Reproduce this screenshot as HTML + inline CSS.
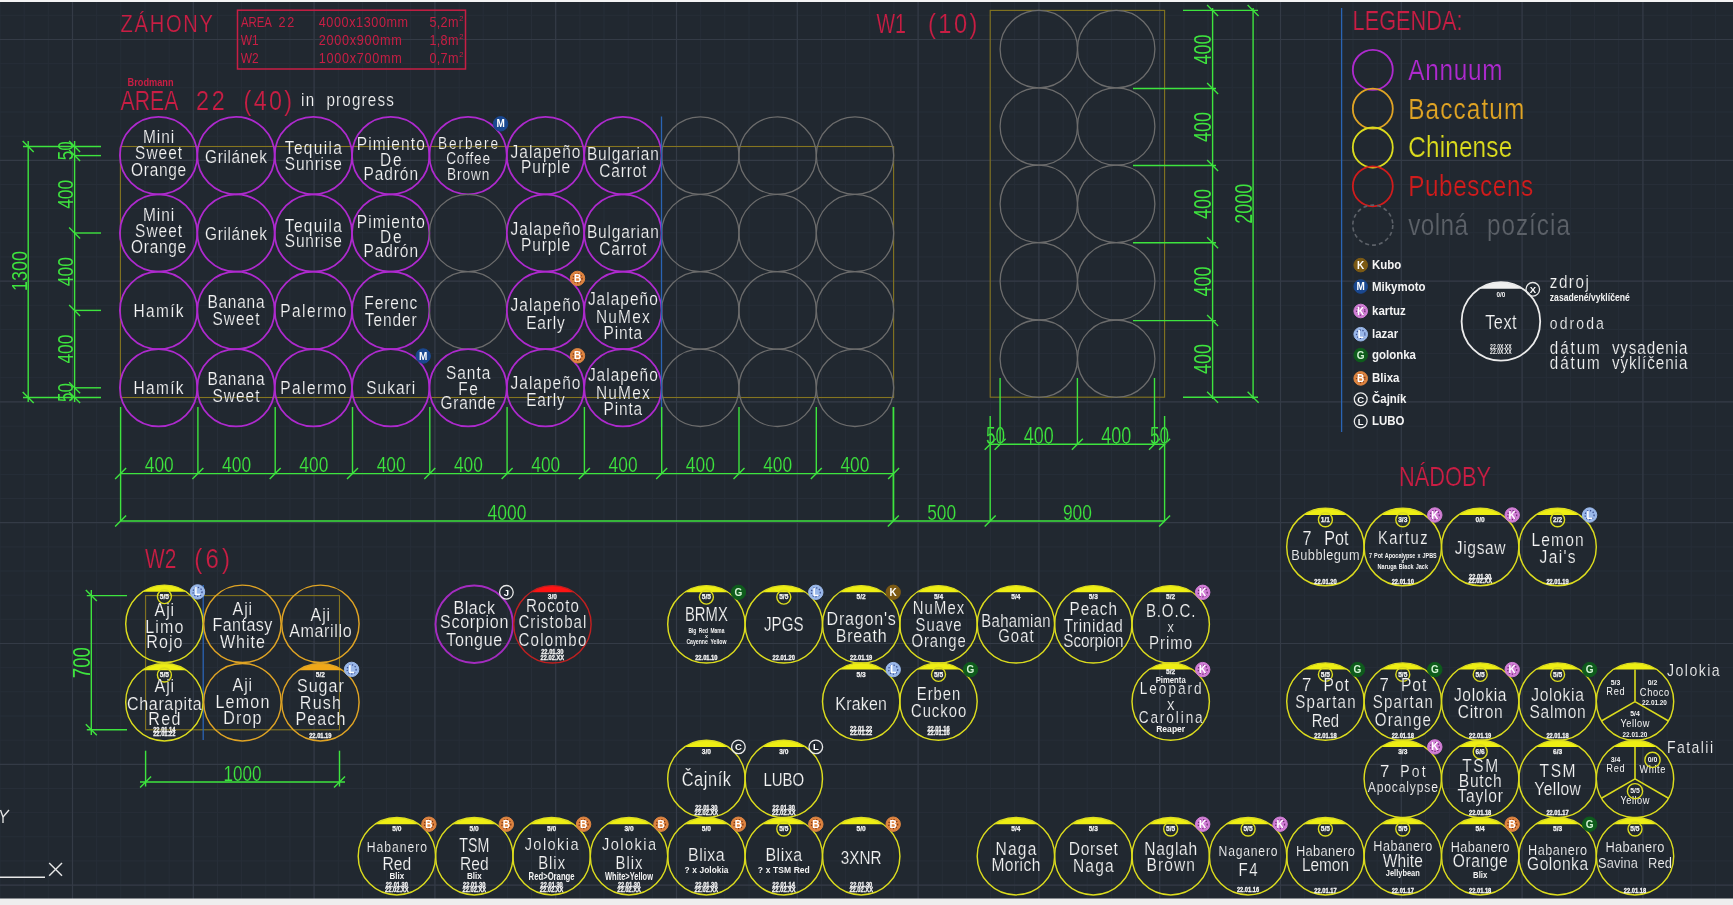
<!DOCTYPE html>
<html><head><meta charset="utf-8"><title>CAD</title>
<style>html,body{margin:0;padding:0;background:#212830;overflow:hidden}svg{display:block;will-change:transform}text{font-family:"Liberation Sans",sans-serif}</style>
</head><body>
<svg width="1733" height="905" viewBox="0 0 1733 905">
<rect x="0" y="0" width="1733" height="905" fill="#212830"/>
<path d="M0.0,0V905M24.2,0V905M48.3,0V905M72.5,0V905M96.7,0V905M120.8,0V905M145.0,0V905M169.1,0V905M193.3,0V905M217.5,0V905M241.6,0V905M265.8,0V905M289.9,0V905M314.1,0V905M338.3,0V905M362.4,0V905M386.6,0V905M410.7,0V905M434.9,0V905M459.1,0V905M483.2,0V905M507.4,0V905M531.5,0V905M555.7,0V905M579.9,0V905M604.0,0V905M628.2,0V905M652.3,0V905M676.5,0V905M700.7,0V905M724.8,0V905M749.0,0V905M773.1,0V905M797.3,0V905M821.5,0V905M845.6,0V905M869.8,0V905M893.9,0V905M918.1,0V905M942.3,0V905M966.4,0V905M990.6,0V905M1014.7,0V905M1038.9,0V905M1063.1,0V905M1087.2,0V905M1111.4,0V905M1135.5,0V905M1159.7,0V905M1183.9,0V905M1208.0,0V905M1232.2,0V905M1256.3,0V905M1280.5,0V905M1304.7,0V905M1328.8,0V905M1353.0,0V905M1377.1,0V905M1401.3,0V905M1425.5,0V905M1449.6,0V905M1473.8,0V905M1497.9,0V905M1522.1,0V905M1546.3,0V905M1570.4,0V905M1594.6,0V905M1618.7,0V905M1642.9,0V905M1667.1,0V905M1691.2,0V905M1715.4,0V905M0,15.3H1733M0,39.5H1733M0,63.7H1733M0,87.8H1733M0,112.0H1733M0,136.1H1733M0,160.3H1733M0,184.5H1733M0,208.6H1733M0,232.8H1733M0,256.9H1733M0,281.1H1733M0,305.3H1733M0,329.4H1733M0,353.6H1733M0,377.7H1733M0,401.9H1733M0,426.1H1733M0,450.2H1733M0,474.4H1733M0,498.5H1733M0,522.7H1733M0,546.9H1733M0,571.0H1733M0,595.2H1733M0,619.3H1733M0,643.5H1733M0,667.7H1733M0,691.8H1733M0,716.0H1733M0,740.1H1733M0,764.3H1733M0,788.5H1733M0,812.6H1733M0,836.8H1733M0,860.9H1733M0,885.1H1733" stroke="#272e38" stroke-width="1"/>
<path d="M72.5,0V905M193.3,0V905M314.1,0V905M434.9,0V905M555.7,0V905M676.5,0V905M797.3,0V905M918.1,0V905M1038.9,0V905M1159.7,0V905M1280.5,0V905M1401.3,0V905M1522.1,0V905M1642.9,0V905M0,39.5H1733M0,160.3H1733M0,281.1H1733M0,401.9H1733M0,522.7H1733M0,643.5H1733M0,764.3H1733M0,885.1H1733" stroke="#343b46" stroke-width="1.2"/>
<text transform="translate(120.50,32.00) scale(0.840,1)" font-size="23.91" fill="#c81e44" stroke="#212830" stroke-width="0.20" textLength="110.0" lengthAdjust="spacing">ZÁHONY</text>
<rect x="237.5" y="10.2" width="228" height="58.8" fill="none" stroke="#c81e44" stroke-width="1.5"/>
<text transform="translate(240.90,27.00) scale(0.755,1)" font-size="15.07" fill="#c81e44" textLength="41.0" lengthAdjust="spacing">AREA</text>
<text transform="translate(278.50,27.00) scale(0.840,1)" font-size="15.07" fill="#c81e44" textLength="18.8" lengthAdjust="spacing">22</text>
<text transform="translate(318.70,27.00) scale(0.840,1)" font-size="15.07" fill="#c81e44" textLength="106.5" lengthAdjust="spacing">4000x1300mm</text>
<text transform="translate(429.50,27.00) scale(0.840,1)" font-size="15.07" fill="#c81e44" textLength="34.5" lengthAdjust="spacing">5,2m</text>
<text x="459.3" y="20.5" font-size="8.12" fill="#c81e44" textLength="4.2" lengthAdjust="spacingAndGlyphs">2</text>
<text transform="translate(240.70,45.00) scale(0.796,1)" font-size="15.07" fill="#c81e44" textLength="22.6" lengthAdjust="spacing">W1</text>
<text transform="translate(318.70,45.00) scale(0.840,1)" font-size="15.07" fill="#c81e44" textLength="98.8" lengthAdjust="spacing">2000x900mm</text>
<text transform="translate(429.50,45.00) scale(0.840,1)" font-size="15.07" fill="#c81e44" textLength="34.5" lengthAdjust="spacing">1,8m</text>
<text x="459.3" y="38.5" font-size="8.12" fill="#c81e44" textLength="4.2" lengthAdjust="spacingAndGlyphs">2</text>
<text transform="translate(240.70,63.00) scale(0.796,1)" font-size="15.07" fill="#c81e44" textLength="22.6" lengthAdjust="spacing">W2</text>
<text transform="translate(318.70,63.00) scale(0.840,1)" font-size="15.07" fill="#c81e44" textLength="98.8" lengthAdjust="spacing">1000x700mm</text>
<text transform="translate(429.50,63.00) scale(0.840,1)" font-size="15.07" fill="#c81e44" textLength="34.5" lengthAdjust="spacing">0,7m</text>
<text x="459.3" y="56.5" font-size="8.12" fill="#c81e44" textLength="4.2" lengthAdjust="spacingAndGlyphs">2</text>
<text x="127.6" y="86.0" font-size="11.01" fill="#c81e44" font-weight="bold" textLength="46.0" lengthAdjust="spacingAndGlyphs">Brodmann</text>
<text transform="translate(120.50,109.80) scale(0.764,1)" font-size="27.83" fill="#c81e44" stroke="#212830" stroke-width="0.20" textLength="75.8" lengthAdjust="spacing">AREA</text>
<text transform="translate(196.00,109.80) scale(0.840,1)" font-size="27.83" fill="#c81e44" stroke="#212830" stroke-width="0.20" textLength="34.3" lengthAdjust="spacing">22</text>
<text transform="translate(243.60,109.80) scale(0.840,1)" font-size="27.83" fill="#c81e44" stroke="#212830" stroke-width="0.20" textLength="57.6" lengthAdjust="spacing">(40)</text>
<text transform="translate(301.00,106.00) scale(0.840,1)" font-size="18.12" fill="#f4f4f4" stroke="#212830" stroke-width="0.20" textLength="15.8" lengthAdjust="spacing">in</text>
<text transform="translate(326.50,106.00) scale(0.840,1)" font-size="18.12" fill="#f4f4f4" stroke="#212830" stroke-width="0.20" textLength="80.2" lengthAdjust="spacing">progress</text>
<rect x="120.4" y="146.5" width="773.2" height="251" fill="none" stroke="#857520" stroke-width="1.1"/>
<circle cx="158.6" cy="155.6" r="38.7" stroke="#ae2ace" stroke-width="1.75" fill="none"/>
<text transform="translate(143.08,143.40) scale(0.840,1)" font-size="18.41" fill="#f4f4f4" stroke="#212830" stroke-width="0.20" textLength="37.0" lengthAdjust="spacing">Mini</text>
<text transform="translate(135.07,159.40) scale(0.840,1)" font-size="18.41" fill="#f4f4f4" stroke="#212830" stroke-width="0.20" textLength="56.0" lengthAdjust="spacing">Sweet</text>
<text transform="translate(131.10,175.70) scale(0.840,1)" font-size="18.41" fill="#f4f4f4" stroke="#212830" stroke-width="0.20" textLength="65.5" lengthAdjust="spacing">Orange</text>
<circle cx="236.0" cy="155.6" r="38.7" stroke="#ae2ace" stroke-width="1.75" fill="none"/>
<text transform="translate(204.98,163.00) scale(0.840,1)" font-size="18.41" fill="#f4f4f4" stroke="#212830" stroke-width="0.20" textLength="73.8" lengthAdjust="spacing">Grilánek</text>
<circle cx="313.4" cy="155.6" r="38.7" stroke="#ae2ace" stroke-width="1.75" fill="none"/>
<text transform="translate(284.86,154.10) scale(0.840,1)" font-size="18.41" fill="#f4f4f4" stroke="#212830" stroke-width="0.20" textLength="67.9" lengthAdjust="spacing">Tequila</text>
<text transform="translate(284.86,169.80) scale(0.840,1)" font-size="18.41" fill="#f4f4f4" stroke="#212830" stroke-width="0.20" textLength="67.9" lengthAdjust="spacing">Sunrise</text>
<circle cx="390.7" cy="155.6" r="38.7" stroke="#ae2ace" stroke-width="1.75" fill="none"/>
<text transform="translate(356.74,150.20) scale(0.840,1)" font-size="18.41" fill="#f4f4f4" stroke="#212830" stroke-width="0.20" textLength="81.0" lengthAdjust="spacing">Pimiento</text>
<text transform="translate(379.92,165.90) scale(0.840,1)" font-size="18.41" fill="#f4f4f4" stroke="#212830" stroke-width="0.20" textLength="25.8" lengthAdjust="spacing">De</text>
<text transform="translate(363.44,179.60) scale(0.840,1)" font-size="18.41" fill="#f4f4f4" stroke="#212830" stroke-width="0.20" textLength="65.0" lengthAdjust="spacing">Padrón</text>
<circle cx="468.1" cy="155.6" r="38.7" stroke="#ae2ace" stroke-width="1.75" fill="none"/>
<text transform="translate(438.12,149.20) scale(0.840,1)" font-size="16.23" fill="#f4f4f4" stroke="#212830" stroke-width="0.18" textLength="71.4" lengthAdjust="spacing">Berbere</text>
<text transform="translate(446.26,163.90) scale(0.840,1)" font-size="16.23" fill="#f4f4f4" stroke="#212830" stroke-width="0.18" textLength="52.1" lengthAdjust="spacing">Coffee</text>
<text transform="translate(446.96,179.80) scale(0.840,1)" font-size="16.23" fill="#f4f4f4" stroke="#212830" stroke-width="0.18" textLength="50.4" lengthAdjust="spacing">Brown</text>
<circle cx="545.5" cy="155.6" r="38.7" stroke="#ae2ace" stroke-width="1.75" fill="none"/>
<text transform="translate(510.50,157.70) scale(0.840,1)" font-size="18.41" fill="#f4f4f4" stroke="#212830" stroke-width="0.20" textLength="83.3" lengthAdjust="spacing">Jalapeño</text>
<text transform="translate(521.03,173.20) scale(0.840,1)" font-size="18.41" fill="#f4f4f4" stroke="#212830" stroke-width="0.20" textLength="58.3" lengthAdjust="spacing">Purple</text>
<circle cx="622.9" cy="155.6" r="38.7" stroke="#ae2ace" stroke-width="1.75" fill="none"/>
<text transform="translate(586.88,160.40) scale(0.840,1)" font-size="18.41" fill="#f4f4f4" stroke="#212830" stroke-width="0.20" textLength="85.7" lengthAdjust="spacing">Bulgarian</text>
<text transform="translate(599.36,177.20) scale(0.840,1)" font-size="18.41" fill="#f4f4f4" stroke="#212830" stroke-width="0.20" textLength="56.0" lengthAdjust="spacing">Carrot</text>
<circle cx="700.3" cy="155.6" r="38.7" stroke="#6c6c6c" stroke-width="1.3" fill="none"/>
<circle cx="777.6" cy="155.6" r="38.7" stroke="#6c6c6c" stroke-width="1.3" fill="none"/>
<circle cx="855.0" cy="155.6" r="38.7" stroke="#6c6c6c" stroke-width="1.3" fill="none"/>
<circle cx="158.6" cy="233.0" r="38.7" stroke="#ae2ace" stroke-width="1.75" fill="none"/>
<text transform="translate(143.08,220.80) scale(0.840,1)" font-size="18.41" fill="#f4f4f4" stroke="#212830" stroke-width="0.20" textLength="37.0" lengthAdjust="spacing">Mini</text>
<text transform="translate(135.07,236.80) scale(0.840,1)" font-size="18.41" fill="#f4f4f4" stroke="#212830" stroke-width="0.20" textLength="56.0" lengthAdjust="spacing">Sweet</text>
<text transform="translate(131.10,253.10) scale(0.840,1)" font-size="18.41" fill="#f4f4f4" stroke="#212830" stroke-width="0.20" textLength="65.5" lengthAdjust="spacing">Orange</text>
<circle cx="236.0" cy="233.0" r="38.7" stroke="#ae2ace" stroke-width="1.75" fill="none"/>
<text transform="translate(204.98,240.40) scale(0.840,1)" font-size="18.41" fill="#f4f4f4" stroke="#212830" stroke-width="0.20" textLength="73.8" lengthAdjust="spacing">Grilánek</text>
<circle cx="313.4" cy="233.0" r="38.7" stroke="#ae2ace" stroke-width="1.75" fill="none"/>
<text transform="translate(284.86,231.50) scale(0.840,1)" font-size="18.41" fill="#f4f4f4" stroke="#212830" stroke-width="0.20" textLength="67.9" lengthAdjust="spacing">Tequila</text>
<text transform="translate(284.86,247.20) scale(0.840,1)" font-size="18.41" fill="#f4f4f4" stroke="#212830" stroke-width="0.20" textLength="67.9" lengthAdjust="spacing">Sunrise</text>
<circle cx="390.7" cy="233.0" r="38.7" stroke="#ae2ace" stroke-width="1.75" fill="none"/>
<text transform="translate(356.74,227.60) scale(0.840,1)" font-size="18.41" fill="#f4f4f4" stroke="#212830" stroke-width="0.20" textLength="81.0" lengthAdjust="spacing">Pimiento</text>
<text transform="translate(379.92,243.30) scale(0.840,1)" font-size="18.41" fill="#f4f4f4" stroke="#212830" stroke-width="0.20" textLength="25.8" lengthAdjust="spacing">De</text>
<text transform="translate(363.44,257.00) scale(0.840,1)" font-size="18.41" fill="#f4f4f4" stroke="#212830" stroke-width="0.20" textLength="65.0" lengthAdjust="spacing">Padrón</text>
<circle cx="468.1" cy="233.0" r="38.7" stroke="#6c6c6c" stroke-width="1.3" fill="none"/>
<circle cx="545.5" cy="233.0" r="38.7" stroke="#ae2ace" stroke-width="1.75" fill="none"/>
<text transform="translate(510.50,235.10) scale(0.840,1)" font-size="18.41" fill="#f4f4f4" stroke="#212830" stroke-width="0.20" textLength="83.3" lengthAdjust="spacing">Jalapeño</text>
<text transform="translate(521.03,250.60) scale(0.840,1)" font-size="18.41" fill="#f4f4f4" stroke="#212830" stroke-width="0.20" textLength="58.3" lengthAdjust="spacing">Purple</text>
<circle cx="622.9" cy="233.0" r="38.7" stroke="#ae2ace" stroke-width="1.75" fill="none"/>
<text transform="translate(586.88,237.80) scale(0.840,1)" font-size="18.41" fill="#f4f4f4" stroke="#212830" stroke-width="0.20" textLength="85.7" lengthAdjust="spacing">Bulgarian</text>
<text transform="translate(599.36,254.60) scale(0.840,1)" font-size="18.41" fill="#f4f4f4" stroke="#212830" stroke-width="0.20" textLength="56.0" lengthAdjust="spacing">Carrot</text>
<circle cx="700.3" cy="233.0" r="38.7" stroke="#6c6c6c" stroke-width="1.3" fill="none"/>
<circle cx="777.6" cy="233.0" r="38.7" stroke="#6c6c6c" stroke-width="1.3" fill="none"/>
<circle cx="855.0" cy="233.0" r="38.7" stroke="#6c6c6c" stroke-width="1.3" fill="none"/>
<circle cx="158.6" cy="310.4" r="38.7" stroke="#ae2ace" stroke-width="1.75" fill="none"/>
<text transform="translate(133.60,316.70) scale(0.840,1)" font-size="18.41" fill="#f4f4f4" stroke="#212830" stroke-width="0.20" textLength="59.5" lengthAdjust="spacing">Hamík</text>
<circle cx="236.0" cy="310.4" r="38.7" stroke="#ae2ace" stroke-width="1.75" fill="none"/>
<text transform="translate(207.48,307.80) scale(0.840,1)" font-size="18.41" fill="#f4f4f4" stroke="#212830" stroke-width="0.20" textLength="67.9" lengthAdjust="spacing">Banana</text>
<text transform="translate(212.45,324.70) scale(0.840,1)" font-size="18.41" fill="#f4f4f4" stroke="#212830" stroke-width="0.20" textLength="56.0" lengthAdjust="spacing">Sweet</text>
<circle cx="313.4" cy="310.4" r="38.7" stroke="#ae2ace" stroke-width="1.75" fill="none"/>
<text transform="translate(280.36,316.70) scale(0.840,1)" font-size="18.41" fill="#f4f4f4" stroke="#212830" stroke-width="0.20" textLength="78.6" lengthAdjust="spacing">Palermo</text>
<circle cx="390.7" cy="310.4" r="38.7" stroke="#ae2ace" stroke-width="1.75" fill="none"/>
<text transform="translate(364.24,308.70) scale(0.840,1)" font-size="18.41" fill="#f4f4f4" stroke="#212830" stroke-width="0.20" textLength="63.1" lengthAdjust="spacing">Ferenc</text>
<text transform="translate(364.85,325.70) scale(0.840,1)" font-size="18.41" fill="#f4f4f4" stroke="#212830" stroke-width="0.20" textLength="61.6" lengthAdjust="spacing">Tender</text>
<circle cx="468.1" cy="310.4" r="38.7" stroke="#6c6c6c" stroke-width="1.3" fill="none"/>
<circle cx="545.5" cy="310.4" r="38.7" stroke="#ae2ace" stroke-width="1.75" fill="none"/>
<text transform="translate(510.50,311.30) scale(0.840,1)" font-size="18.41" fill="#f4f4f4" stroke="#212830" stroke-width="0.20" textLength="83.3" lengthAdjust="spacing">Jalapeño</text>
<text transform="translate(526.21,328.60) scale(0.840,1)" font-size="18.41" fill="#f4f4f4" stroke="#212830" stroke-width="0.20" textLength="45.9" lengthAdjust="spacing">Early</text>
<circle cx="622.9" cy="310.4" r="38.7" stroke="#ae2ace" stroke-width="1.75" fill="none"/>
<text transform="translate(587.88,305.40) scale(0.840,1)" font-size="18.41" fill="#f4f4f4" stroke="#212830" stroke-width="0.20" textLength="83.3" lengthAdjust="spacing">Jalapeño</text>
<text transform="translate(596.06,322.70) scale(0.840,1)" font-size="18.41" fill="#f4f4f4" stroke="#212830" stroke-width="0.20" textLength="63.8" lengthAdjust="spacing">NuMex</text>
<text transform="translate(603.58,338.60) scale(0.840,1)" font-size="18.41" fill="#f4f4f4" stroke="#212830" stroke-width="0.20" textLength="45.9" lengthAdjust="spacing">Pinta</text>
<circle cx="700.3" cy="310.4" r="38.7" stroke="#6c6c6c" stroke-width="1.3" fill="none"/>
<circle cx="777.6" cy="310.4" r="38.7" stroke="#6c6c6c" stroke-width="1.3" fill="none"/>
<circle cx="855.0" cy="310.4" r="38.7" stroke="#6c6c6c" stroke-width="1.3" fill="none"/>
<circle cx="158.6" cy="387.8" r="38.7" stroke="#ae2ace" stroke-width="1.75" fill="none"/>
<text transform="translate(133.60,394.10) scale(0.840,1)" font-size="18.41" fill="#f4f4f4" stroke="#212830" stroke-width="0.20" textLength="59.5" lengthAdjust="spacing">Hamík</text>
<circle cx="236.0" cy="387.8" r="38.7" stroke="#ae2ace" stroke-width="1.75" fill="none"/>
<text transform="translate(207.48,385.20) scale(0.840,1)" font-size="18.41" fill="#f4f4f4" stroke="#212830" stroke-width="0.20" textLength="67.9" lengthAdjust="spacing">Banana</text>
<text transform="translate(212.45,402.10) scale(0.840,1)" font-size="18.41" fill="#f4f4f4" stroke="#212830" stroke-width="0.20" textLength="56.0" lengthAdjust="spacing">Sweet</text>
<circle cx="313.4" cy="387.8" r="38.7" stroke="#ae2ace" stroke-width="1.75" fill="none"/>
<text transform="translate(280.36,394.10) scale(0.840,1)" font-size="18.41" fill="#f4f4f4" stroke="#212830" stroke-width="0.20" textLength="78.6" lengthAdjust="spacing">Palermo</text>
<circle cx="390.7" cy="387.8" r="38.7" stroke="#ae2ace" stroke-width="1.75" fill="none"/>
<text transform="translate(366.24,394.10) scale(0.840,1)" font-size="18.41" fill="#f4f4f4" stroke="#212830" stroke-width="0.20" textLength="58.3" lengthAdjust="spacing">Sukari</text>
<circle cx="468.1" cy="387.8" r="38.7" stroke="#ae2ace" stroke-width="1.75" fill="none"/>
<text transform="translate(446.00,378.80) scale(0.840,1)" font-size="18.41" fill="#f4f4f4" stroke="#212830" stroke-width="0.20" textLength="52.7" lengthAdjust="spacing">Santa</text>
<text transform="translate(458.24,395.30) scale(0.840,1)" font-size="18.41" fill="#f4f4f4" stroke="#212830" stroke-width="0.20" textLength="23.5" lengthAdjust="spacing">Fe</text>
<text transform="translate(440.62,408.80) scale(0.840,1)" font-size="18.41" fill="#f4f4f4" stroke="#212830" stroke-width="0.20" textLength="65.5" lengthAdjust="spacing">Grande</text>
<circle cx="545.5" cy="387.8" r="38.7" stroke="#ae2ace" stroke-width="1.75" fill="none"/>
<text transform="translate(510.50,388.90) scale(0.840,1)" font-size="18.41" fill="#f4f4f4" stroke="#212830" stroke-width="0.20" textLength="83.3" lengthAdjust="spacing">Jalapeño</text>
<text transform="translate(526.21,406.20) scale(0.840,1)" font-size="18.41" fill="#f4f4f4" stroke="#212830" stroke-width="0.20" textLength="45.9" lengthAdjust="spacing">Early</text>
<circle cx="622.9" cy="387.8" r="38.7" stroke="#ae2ace" stroke-width="1.75" fill="none"/>
<text transform="translate(587.88,381.30) scale(0.840,1)" font-size="18.41" fill="#f4f4f4" stroke="#212830" stroke-width="0.20" textLength="83.3" lengthAdjust="spacing">Jalapeño</text>
<text transform="translate(596.06,399.20) scale(0.840,1)" font-size="18.41" fill="#f4f4f4" stroke="#212830" stroke-width="0.20" textLength="63.8" lengthAdjust="spacing">NuMex</text>
<text transform="translate(603.58,415.20) scale(0.840,1)" font-size="18.41" fill="#f4f4f4" stroke="#212830" stroke-width="0.20" textLength="45.9" lengthAdjust="spacing">Pinta</text>
<circle cx="700.3" cy="387.8" r="38.7" stroke="#6c6c6c" stroke-width="1.3" fill="none"/>
<circle cx="777.6" cy="387.8" r="38.7" stroke="#6c6c6c" stroke-width="1.3" fill="none"/>
<circle cx="855.0" cy="387.8" r="38.7" stroke="#6c6c6c" stroke-width="1.3" fill="none"/>
<circle cx="500.6" cy="123.8" r="7.2" stroke="#1a4890" stroke-width="1.0" fill="#1a4890"/>
<text x="500.6" y="127.3" font-size="10" font-weight="bold" fill="#ffffff" text-anchor="middle">M</text>
<circle cx="423.2" cy="356.0" r="7.2" stroke="#1a4890" stroke-width="1.0" fill="#1a4890"/>
<text x="423.2" y="359.5" font-size="10" font-weight="bold" fill="#ffffff" text-anchor="middle">M</text>
<circle cx="577.5" cy="278.4" r="7.2" stroke="#de8440" stroke-width="1.0" fill="#de8440"/>
<circle cx="577.5" cy="278.4" r="4.5" stroke="#5a1a08" stroke-width="1.3" fill="none" stroke-dasharray="1.3 1.7" opacity="0.75"/>
<text x="577.5" y="281.9" font-size="10" font-weight="bold" fill="#ffffff" text-anchor="middle">B</text>
<circle cx="577.5" cy="355.8" r="7.2" stroke="#de8440" stroke-width="1.0" fill="#de8440"/>
<circle cx="577.5" cy="355.8" r="4.5" stroke="#5a1a08" stroke-width="1.3" fill="none" stroke-dasharray="1.3 1.7" opacity="0.75"/>
<text x="577.5" y="359.3" font-size="10" font-weight="bold" fill="#ffffff" text-anchor="middle">B</text>
<line x1="661.5" y1="116.6" x2="661.5" y2="427.0" stroke="#2a64b4" stroke-width="1.3"/>
<line x1="120.6" y1="407.0" x2="120.6" y2="521.0" stroke="#3ee43e" stroke-width="1.4"/>
<line x1="115.1" y1="479.1" x2="126.1" y2="468.1" stroke="#3ee43e" stroke-width="1.4"/>
<line x1="197.9" y1="407.0" x2="197.9" y2="473.6" stroke="#3ee43e" stroke-width="1.4"/>
<line x1="192.4" y1="479.1" x2="203.4" y2="468.1" stroke="#3ee43e" stroke-width="1.4"/>
<line x1="275.2" y1="407.0" x2="275.2" y2="473.6" stroke="#3ee43e" stroke-width="1.4"/>
<line x1="269.7" y1="479.1" x2="280.7" y2="468.1" stroke="#3ee43e" stroke-width="1.4"/>
<line x1="352.5" y1="407.0" x2="352.5" y2="473.6" stroke="#3ee43e" stroke-width="1.4"/>
<line x1="347.0" y1="479.1" x2="358.0" y2="468.1" stroke="#3ee43e" stroke-width="1.4"/>
<line x1="429.8" y1="407.0" x2="429.8" y2="473.6" stroke="#3ee43e" stroke-width="1.4"/>
<line x1="424.3" y1="479.1" x2="435.3" y2="468.1" stroke="#3ee43e" stroke-width="1.4"/>
<line x1="507.1" y1="407.0" x2="507.1" y2="473.6" stroke="#3ee43e" stroke-width="1.4"/>
<line x1="501.6" y1="479.1" x2="512.6" y2="468.1" stroke="#3ee43e" stroke-width="1.4"/>
<line x1="584.4" y1="407.0" x2="584.4" y2="473.6" stroke="#3ee43e" stroke-width="1.4"/>
<line x1="578.9" y1="479.1" x2="589.9" y2="468.1" stroke="#3ee43e" stroke-width="1.4"/>
<line x1="661.7" y1="407.0" x2="661.7" y2="473.6" stroke="#3ee43e" stroke-width="1.4"/>
<line x1="656.2" y1="479.1" x2="667.2" y2="468.1" stroke="#3ee43e" stroke-width="1.4"/>
<line x1="739.0" y1="407.0" x2="739.0" y2="473.6" stroke="#3ee43e" stroke-width="1.4"/>
<line x1="733.5" y1="479.1" x2="744.5" y2="468.1" stroke="#3ee43e" stroke-width="1.4"/>
<line x1="816.3" y1="407.0" x2="816.3" y2="473.6" stroke="#3ee43e" stroke-width="1.4"/>
<line x1="810.8" y1="479.1" x2="821.8" y2="468.1" stroke="#3ee43e" stroke-width="1.4"/>
<line x1="893.6" y1="407.0" x2="893.6" y2="521.0" stroke="#3ee43e" stroke-width="1.4"/>
<line x1="888.1" y1="479.1" x2="899.1" y2="468.1" stroke="#3ee43e" stroke-width="1.4"/>
<line x1="120.6" y1="473.6" x2="893.3" y2="473.6" stroke="#3ee43e" stroke-width="1.4"/>
<text transform="translate(144.75,472.40) scale(0.774,1)" font-size="22.46" fill="#3ee43e" stroke="#212830" stroke-width="0.20" textLength="37.5" lengthAdjust="spacing">400</text>
<text transform="translate(222.05,472.40) scale(0.774,1)" font-size="22.46" fill="#3ee43e" stroke="#212830" stroke-width="0.20" textLength="37.5" lengthAdjust="spacing">400</text>
<text transform="translate(299.35,472.40) scale(0.774,1)" font-size="22.46" fill="#3ee43e" stroke="#212830" stroke-width="0.20" textLength="37.5" lengthAdjust="spacing">400</text>
<text transform="translate(376.65,472.40) scale(0.774,1)" font-size="22.46" fill="#3ee43e" stroke="#212830" stroke-width="0.20" textLength="37.5" lengthAdjust="spacing">400</text>
<text transform="translate(453.95,472.40) scale(0.774,1)" font-size="22.46" fill="#3ee43e" stroke="#212830" stroke-width="0.20" textLength="37.5" lengthAdjust="spacing">400</text>
<text transform="translate(531.25,472.40) scale(0.774,1)" font-size="22.46" fill="#3ee43e" stroke="#212830" stroke-width="0.20" textLength="37.5" lengthAdjust="spacing">400</text>
<text transform="translate(608.55,472.40) scale(0.774,1)" font-size="22.46" fill="#3ee43e" stroke="#212830" stroke-width="0.20" textLength="37.5" lengthAdjust="spacing">400</text>
<text transform="translate(685.85,472.40) scale(0.774,1)" font-size="22.46" fill="#3ee43e" stroke="#212830" stroke-width="0.20" textLength="37.5" lengthAdjust="spacing">400</text>
<text transform="translate(763.15,472.40) scale(0.774,1)" font-size="22.46" fill="#3ee43e" stroke="#212830" stroke-width="0.20" textLength="37.5" lengthAdjust="spacing">400</text>
<text transform="translate(840.45,472.40) scale(0.774,1)" font-size="22.46" fill="#3ee43e" stroke="#212830" stroke-width="0.20" textLength="37.5" lengthAdjust="spacing">400</text>
<line x1="120.6" y1="521.0" x2="1164.6" y2="521.0" stroke="#3ee43e" stroke-width="1.4"/>
<line x1="115.1" y1="526.5" x2="126.1" y2="515.5" stroke="#3ee43e" stroke-width="1.4"/>
<line x1="887.8" y1="526.5" x2="898.8" y2="515.5" stroke="#3ee43e" stroke-width="1.4"/>
<line x1="984.7" y1="526.5" x2="995.7" y2="515.5" stroke="#3ee43e" stroke-width="1.4"/>
<line x1="1159.1" y1="526.5" x2="1170.1" y2="515.5" stroke="#3ee43e" stroke-width="1.4"/>
<text transform="translate(487.50,519.50) scale(0.781,1)" font-size="22.46" fill="#3ee43e" stroke="#212830" stroke-width="0.20" textLength="50.0" lengthAdjust="spacing">4000</text>
<text transform="translate(927.20,519.50) scale(0.774,1)" font-size="22.46" fill="#3ee43e" stroke="#212830" stroke-width="0.20" textLength="37.5" lengthAdjust="spacing">500</text>
<text transform="translate(1062.90,519.50) scale(0.774,1)" font-size="22.46" fill="#3ee43e" stroke="#212830" stroke-width="0.20" textLength="37.5" lengthAdjust="spacing">900</text>
<line x1="28.2" y1="141.0" x2="28.2" y2="402.0" stroke="#3ee43e" stroke-width="1.4"/>
<line x1="22.7" y1="141.0" x2="33.7" y2="152.0" stroke="#3ee43e" stroke-width="1.4"/>
<line x1="22.7" y1="392.0" x2="33.7" y2="403.0" stroke="#3ee43e" stroke-width="1.4"/>
<line x1="74.6" y1="141.0" x2="74.6" y2="402.0" stroke="#3ee43e" stroke-width="1.4"/>
<line x1="69.1" y1="141.0" x2="80.1" y2="152.0" stroke="#3ee43e" stroke-width="1.4"/>
<line x1="69.1" y1="150.1" x2="80.1" y2="161.1" stroke="#3ee43e" stroke-width="1.4"/>
<line x1="69.1" y1="227.5" x2="80.1" y2="238.5" stroke="#3ee43e" stroke-width="1.4"/>
<line x1="69.1" y1="304.9" x2="80.1" y2="315.9" stroke="#3ee43e" stroke-width="1.4"/>
<line x1="69.1" y1="382.3" x2="80.1" y2="393.3" stroke="#3ee43e" stroke-width="1.4"/>
<line x1="69.1" y1="392.0" x2="80.1" y2="403.0" stroke="#3ee43e" stroke-width="1.4"/>
<line x1="23.0" y1="146.5" x2="101.0" y2="146.5" stroke="#3ee43e" stroke-width="1.4"/>
<line x1="23.0" y1="397.5" x2="101.0" y2="397.5" stroke="#3ee43e" stroke-width="1.4"/>
<line x1="74.6" y1="155.6" x2="101.0" y2="155.6" stroke="#3ee43e" stroke-width="1.4"/>
<line x1="74.6" y1="233.0" x2="101.0" y2="233.0" stroke="#3ee43e" stroke-width="1.4"/>
<line x1="74.6" y1="310.4" x2="101.0" y2="310.4" stroke="#3ee43e" stroke-width="1.4"/>
<line x1="74.6" y1="387.8" x2="101.0" y2="387.8" stroke="#3ee43e" stroke-width="1.4"/>
<text transform="translate(26.5,271.0) rotate(-90)" x="0" y="0" font-size="22.46" fill="#3ee43e" text-anchor="middle" textLength="40.0" lengthAdjust="spacingAndGlyphs">1300</text>
<text transform="translate(73.0,194.3) rotate(-90)" x="0" y="0" font-size="22.46" fill="#3ee43e" text-anchor="middle" textLength="29.0" lengthAdjust="spacingAndGlyphs">400</text>
<text transform="translate(73.0,271.7) rotate(-90)" x="0" y="0" font-size="22.46" fill="#3ee43e" text-anchor="middle" textLength="29.0" lengthAdjust="spacingAndGlyphs">400</text>
<text transform="translate(73.0,349.1) rotate(-90)" x="0" y="0" font-size="22.46" fill="#3ee43e" text-anchor="middle" textLength="29.0" lengthAdjust="spacingAndGlyphs">400</text>
<text transform="translate(73.0,150.8) rotate(-90)" x="0" y="0" font-size="22.46" fill="#3ee43e" text-anchor="middle" textLength="19.0" lengthAdjust="spacingAndGlyphs">50</text>
<text transform="translate(73.0,392.5) rotate(-90)" x="0" y="0" font-size="22.46" fill="#3ee43e" text-anchor="middle" textLength="19.0" lengthAdjust="spacingAndGlyphs">50</text>
<text transform="translate(876.50,32.70) scale(0.699,1)" font-size="28.12" fill="#c81e44" stroke="#212830" stroke-width="0.20" textLength="42.2" lengthAdjust="spacing">W1</text>
<text transform="translate(927.90,32.70) scale(0.840,1)" font-size="28.12" fill="#c81e44" stroke="#212830" stroke-width="0.20" textLength="59.0" lengthAdjust="spacing">(10)</text>
<rect x="990.2" y="10.4" width="174.4" height="386.8" fill="none" stroke="#857520" stroke-width="1.1"/>
<circle cx="1038.8" cy="49.1" r="38.7" stroke="#6c6c6c" stroke-width="1.3" fill="none"/>
<circle cx="1116.2" cy="49.1" r="38.7" stroke="#6c6c6c" stroke-width="1.3" fill="none"/>
<circle cx="1038.8" cy="126.5" r="38.7" stroke="#6c6c6c" stroke-width="1.3" fill="none"/>
<circle cx="1116.2" cy="126.5" r="38.7" stroke="#6c6c6c" stroke-width="1.3" fill="none"/>
<circle cx="1038.8" cy="203.9" r="38.7" stroke="#6c6c6c" stroke-width="1.3" fill="none"/>
<circle cx="1116.2" cy="203.9" r="38.7" stroke="#6c6c6c" stroke-width="1.3" fill="none"/>
<circle cx="1038.8" cy="281.3" r="38.7" stroke="#6c6c6c" stroke-width="1.3" fill="none"/>
<circle cx="1116.2" cy="281.3" r="38.7" stroke="#6c6c6c" stroke-width="1.3" fill="none"/>
<circle cx="1038.8" cy="358.7" r="38.7" stroke="#6c6c6c" stroke-width="1.3" fill="none"/>
<circle cx="1116.2" cy="358.7" r="38.7" stroke="#6c6c6c" stroke-width="1.3" fill="none"/>
<line x1="1000.1" y1="378.0" x2="1000.1" y2="444.2" stroke="#3ee43e" stroke-width="1.4"/>
<line x1="1077.4" y1="378.0" x2="1077.4" y2="444.2" stroke="#3ee43e" stroke-width="1.4"/>
<line x1="1154.5" y1="378.0" x2="1154.5" y2="444.2" stroke="#3ee43e" stroke-width="1.4"/>
<line x1="990.2" y1="416.0" x2="990.2" y2="521.0" stroke="#3ee43e" stroke-width="1.4"/>
<line x1="1164.6" y1="416.0" x2="1164.6" y2="521.0" stroke="#3ee43e" stroke-width="1.4"/>
<line x1="893.3" y1="407.0" x2="893.3" y2="521.0" stroke="#3ee43e" stroke-width="1.4"/>
<line x1="990.2" y1="444.2" x2="1164.6" y2="444.2" stroke="#3ee43e" stroke-width="1.4"/>
<line x1="984.7" y1="449.7" x2="995.7" y2="438.7" stroke="#3ee43e" stroke-width="1.4"/>
<line x1="994.6" y1="449.7" x2="1005.6" y2="438.7" stroke="#3ee43e" stroke-width="1.4"/>
<line x1="1071.9" y1="449.7" x2="1082.9" y2="438.7" stroke="#3ee43e" stroke-width="1.4"/>
<line x1="1149.0" y1="449.7" x2="1160.0" y2="438.7" stroke="#3ee43e" stroke-width="1.4"/>
<line x1="1159.1" y1="449.7" x2="1170.1" y2="438.7" stroke="#3ee43e" stroke-width="1.4"/>
<text transform="translate(986.00,443.50) scale(0.737,1)" font-size="23.19" fill="#3ee43e" stroke="#212830" stroke-width="0.20" textLength="25.8" lengthAdjust="spacing">50</text>
<text transform="translate(1023.80,443.50) scale(0.775,1)" font-size="23.19" fill="#3ee43e" stroke="#212830" stroke-width="0.20" textLength="38.7" lengthAdjust="spacing">400</text>
<text transform="translate(1101.20,443.50) scale(0.775,1)" font-size="23.19" fill="#3ee43e" stroke="#212830" stroke-width="0.20" textLength="38.7" lengthAdjust="spacing">400</text>
<text transform="translate(1150.00,443.50) scale(0.737,1)" font-size="23.19" fill="#3ee43e" stroke="#212830" stroke-width="0.20" textLength="25.8" lengthAdjust="spacing">50</text>
<line x1="1212.6" y1="8.0" x2="1212.6" y2="399.0" stroke="#3ee43e" stroke-width="1.4"/>
<line x1="1253.1" y1="8.0" x2="1253.1" y2="399.0" stroke="#3ee43e" stroke-width="1.4"/>
<line x1="1183.0" y1="10.4" x2="1258.0" y2="10.4" stroke="#3ee43e" stroke-width="1.4"/>
<line x1="1183.0" y1="397.2" x2="1258.0" y2="397.2" stroke="#3ee43e" stroke-width="1.4"/>
<line x1="1133.0" y1="88.5" x2="1216.0" y2="88.5" stroke="#3ee43e" stroke-width="1.4"/>
<line x1="1133.0" y1="165.5" x2="1216.0" y2="165.5" stroke="#3ee43e" stroke-width="1.4"/>
<line x1="1133.0" y1="242.7" x2="1216.0" y2="242.7" stroke="#3ee43e" stroke-width="1.4"/>
<line x1="1133.0" y1="320.6" x2="1216.0" y2="320.6" stroke="#3ee43e" stroke-width="1.4"/>
<line x1="1207.1" y1="4.9" x2="1218.1" y2="15.9" stroke="#3ee43e" stroke-width="1.4"/>
<line x1="1207.1" y1="83.0" x2="1218.1" y2="94.0" stroke="#3ee43e" stroke-width="1.4"/>
<line x1="1207.1" y1="160.0" x2="1218.1" y2="171.0" stroke="#3ee43e" stroke-width="1.4"/>
<line x1="1207.1" y1="237.2" x2="1218.1" y2="248.2" stroke="#3ee43e" stroke-width="1.4"/>
<line x1="1207.1" y1="315.1" x2="1218.1" y2="326.1" stroke="#3ee43e" stroke-width="1.4"/>
<line x1="1207.1" y1="391.7" x2="1218.1" y2="402.7" stroke="#3ee43e" stroke-width="1.4"/>
<line x1="1247.6" y1="4.9" x2="1258.6" y2="15.9" stroke="#3ee43e" stroke-width="1.4"/>
<line x1="1247.6" y1="391.7" x2="1258.6" y2="402.7" stroke="#3ee43e" stroke-width="1.4"/>
<text transform="translate(1211.0,49.4) rotate(-90)" x="0" y="0" font-size="23.19" fill="#3ee43e" text-anchor="middle" textLength="30.0" lengthAdjust="spacingAndGlyphs">400</text>
<text transform="translate(1211.0,127.0) rotate(-90)" x="0" y="0" font-size="23.19" fill="#3ee43e" text-anchor="middle" textLength="30.0" lengthAdjust="spacingAndGlyphs">400</text>
<text transform="translate(1211.0,204.1) rotate(-90)" x="0" y="0" font-size="23.19" fill="#3ee43e" text-anchor="middle" textLength="30.0" lengthAdjust="spacingAndGlyphs">400</text>
<text transform="translate(1211.0,281.6) rotate(-90)" x="0" y="0" font-size="23.19" fill="#3ee43e" text-anchor="middle" textLength="30.0" lengthAdjust="spacingAndGlyphs">400</text>
<text transform="translate(1211.0,358.9) rotate(-90)" x="0" y="0" font-size="23.19" fill="#3ee43e" text-anchor="middle" textLength="30.0" lengthAdjust="spacingAndGlyphs">400</text>
<text transform="translate(1251.5,203.8) rotate(-90)" x="0" y="0" font-size="23.19" fill="#3ee43e" text-anchor="middle" textLength="40.0" lengthAdjust="spacingAndGlyphs">2000</text>
<line x1="1341.6" y1="8.0" x2="1341.6" y2="432.0" stroke="#2a64b4" stroke-width="1.3"/>
<text transform="translate(1352.60,29.80) scale(0.798,1)" font-size="27.25" fill="#c81e44" stroke="#212830" stroke-width="0.20" textLength="137.8" lengthAdjust="spacing">LEGENDA:</text>
<circle cx="1372.8" cy="69.9" r="20.0" stroke="#ae2ace" stroke-width="1.8" fill="none"/>
<text transform="translate(1408.20,79.70) scale(0.840,1)" font-size="28.99" fill="#ae2ace" stroke="#212830" stroke-width="0.20" textLength="112.4" lengthAdjust="spacing">Annuum</text>
<circle cx="1372.8" cy="108.7" r="20.0" stroke="#e0a424" stroke-width="1.8" fill="none"/>
<text transform="translate(1408.20,118.50) scale(0.840,1)" font-size="28.99" fill="#e0a424" stroke="#212830" stroke-width="0.20" textLength="138.1" lengthAdjust="spacing">Baccatum</text>
<circle cx="1372.8" cy="147.5" r="20.0" stroke="#dcdc1e" stroke-width="1.8" fill="none"/>
<text transform="translate(1408.20,157.30) scale(0.840,1)" font-size="28.99" fill="#dcdc1e" stroke="#212830" stroke-width="0.20" textLength="123.8" lengthAdjust="spacing">Chinense</text>
<circle cx="1372.8" cy="186.3" r="20.0" stroke="#d01c1c" stroke-width="1.8" fill="none"/>
<text transform="translate(1408.20,196.10) scale(0.840,1)" font-size="28.99" fill="#d01c1c" stroke="#212830" stroke-width="0.20" textLength="148.8" lengthAdjust="spacing">Pubescens</text>
<circle cx="1372.8" cy="225.1" r="20.0" stroke="#5c6168" stroke-width="1.6" fill="none" stroke-dasharray="4 3"/>
<text transform="translate(1408.20,234.90) scale(0.840,1)" font-size="28.99" fill="#5c6168" stroke="#212830" stroke-width="0.20" textLength="71.3" lengthAdjust="spacing">volná</text>
<text transform="translate(1486.90,234.90) scale(0.840,1)" font-size="28.99" fill="#5c6168" stroke="#212830" stroke-width="0.20" textLength="98.9" lengthAdjust="spacing">pozícia</text>
<circle cx="1360.7" cy="265.1" r="6.8" stroke="#7c5a14" stroke-width="1.0" fill="#7c5a14"/>
<text x="1360.7" y="268.6" font-size="10" font-weight="bold" fill="#ffffff" text-anchor="middle">K</text>
<text x="1372.0" y="269.1" font-size="12.46" fill="#f4f4f4" font-weight="bold" textLength="29.3" lengthAdjust="spacingAndGlyphs">Kubo</text>
<circle cx="1360.7" cy="286.5" r="6.8" stroke="#1a4890" stroke-width="1.0" fill="#1a4890"/>
<text x="1360.7" y="290.0" font-size="10" font-weight="bold" fill="#ffffff" text-anchor="middle">M</text>
<text x="1372.0" y="290.5" font-size="12.46" fill="#f4f4f4" font-weight="bold" textLength="53.5" lengthAdjust="spacingAndGlyphs">Mikymoto</text>
<circle cx="1360.7" cy="311.0" r="6.8" stroke="#d27ed6" stroke-width="1.0" fill="#d27ed6"/>
<circle cx="1360.7" cy="311.0" r="4.2" stroke="#4a1450" stroke-width="1.3" fill="none" stroke-dasharray="1.3 1.7" opacity="0.75"/>
<text x="1360.7" y="314.5" font-size="10" font-weight="bold" fill="#ffffff" text-anchor="middle">K</text>
<text x="1372.0" y="315.0" font-size="12.46" fill="#f4f4f4" font-weight="bold" textLength="33.8" lengthAdjust="spacingAndGlyphs">kartuz</text>
<circle cx="1360.7" cy="334.2" r="6.8" stroke="#9ab8ea" stroke-width="1.0" fill="#9ab8ea"/>
<circle cx="1360.7" cy="334.2" r="4.2" stroke="#1c2c70" stroke-width="1.3" fill="none" stroke-dasharray="1.3 1.7" opacity="0.75"/>
<text x="1360.7" y="337.7" font-size="10" font-weight="bold" fill="#ffffff" text-anchor="middle">L</text>
<text x="1372.0" y="338.2" font-size="12.46" fill="#f4f4f4" font-weight="bold" textLength="26.1" lengthAdjust="spacingAndGlyphs">lazar</text>
<circle cx="1360.7" cy="355.1" r="6.8" stroke="#0e5c1c" stroke-width="1.0" fill="#0e5c1c"/>
<text x="1360.7" y="358.6" font-size="10" font-weight="bold" fill="#d4f4d4" text-anchor="middle">G</text>
<text x="1372.0" y="359.1" font-size="12.46" fill="#f4f4f4" font-weight="bold" textLength="44.0" lengthAdjust="spacingAndGlyphs">golonka</text>
<circle cx="1360.7" cy="378.4" r="6.8" stroke="#de8440" stroke-width="1.0" fill="#de8440"/>
<circle cx="1360.7" cy="378.4" r="4.2" stroke="#5a1a08" stroke-width="1.3" fill="none" stroke-dasharray="1.3 1.7" opacity="0.75"/>
<text x="1360.7" y="381.9" font-size="10" font-weight="bold" fill="#ffffff" text-anchor="middle">B</text>
<text x="1372.0" y="382.4" font-size="12.46" fill="#f4f4f4" font-weight="bold" textLength="27.4" lengthAdjust="spacingAndGlyphs">Blixa</text>
<circle cx="1360.7" cy="399.3" r="6.4" stroke="#e8e8e8" stroke-width="1.3" fill="none"/>
<text x="1360.7" y="402.7" font-size="9.5" font-weight="bold" fill="#ffffff" text-anchor="middle">C</text>
<text x="1372.0" y="403.3" font-size="12.46" fill="#f4f4f4" font-weight="bold" textLength="34.4" lengthAdjust="spacingAndGlyphs">Čajník</text>
<circle cx="1360.7" cy="421.4" r="6.4" stroke="#e8e8e8" stroke-width="1.3" fill="none"/>
<text x="1360.7" y="424.8" font-size="9.5" font-weight="bold" fill="#ffffff" text-anchor="middle">L</text>
<text x="1372.0" y="425.4" font-size="12.46" fill="#f4f4f4" font-weight="bold" textLength="32.5" lengthAdjust="spacingAndGlyphs">LUBO</text>
<path d="M1479.0,288.8 A39.3,39.3 0 0 1 1522.8,288.8 Z" fill="#f0f0f0"/>
<circle cx="1500.9" cy="321.4" r="39.3" stroke="#ececec" stroke-width="1.8" fill="none"/>
<text x="1496.4" y="296.9" font-size="7.54" fill="#f4f4f4" font-weight="bold" textLength="8.9" lengthAdjust="spacingAndGlyphs">0/0</text>
<text transform="translate(1485.20,329.00) scale(0.840,1)" font-size="19.42" fill="#f4f4f4" stroke="#212830" stroke-width="0.20" textLength="37.4" lengthAdjust="spacing">Text</text>
<text x="1490.1" y="348.9" font-size="6.38" fill="#f4f4f4" font-weight="bold" textLength="21.6" lengthAdjust="spacingAndGlyphs">22.0X.XX</text>
<text x="1490.1" y="354.4" font-size="6.38" fill="#f4f4f4" font-weight="bold" textLength="21.6" lengthAdjust="spacingAndGlyphs">22.0X.XX</text>
<circle cx="1532.8" cy="289.3" r="6.8" stroke="#e8e8e8" stroke-width="1.3" fill="none"/>
<text x="1532.8" y="292.7" font-size="9.5" font-weight="bold" fill="#ffffff" text-anchor="middle">X</text>
<text transform="translate(1549.80,287.70) scale(0.840,1)" font-size="18.12" fill="#f4f4f4" stroke="#212830" stroke-width="0.20" textLength="46.4" lengthAdjust="spacing">zdroj</text>
<text x="1549.8" y="301.0" font-size="10.14" fill="#f4f4f4" font-weight="bold" textLength="80.0" lengthAdjust="spacingAndGlyphs">zasadené/vyklíčené</text>
<text transform="translate(1549.80,328.80) scale(0.840,1)" font-size="16.67" fill="#f4f4f4" stroke="#212830" stroke-width="0.18" textLength="64.3" lengthAdjust="spacing">odroda</text>
<text transform="translate(1549.80,354.00) scale(0.840,1)" font-size="18.12" fill="#f4f4f4" stroke="#212830" stroke-width="0.20" textLength="59.5" lengthAdjust="spacing">dátum</text>
<text transform="translate(1611.90,354.00) scale(0.840,1)" font-size="18.12" fill="#f4f4f4" stroke="#212830" stroke-width="0.20" textLength="89.9" lengthAdjust="spacing">vysadenia</text>
<text transform="translate(1549.80,368.60) scale(0.840,1)" font-size="18.12" fill="#f4f4f4" stroke="#212830" stroke-width="0.20" textLength="59.5" lengthAdjust="spacing">dátum</text>
<text transform="translate(1611.90,368.60) scale(0.840,1)" font-size="18.12" fill="#f4f4f4" stroke="#212830" stroke-width="0.20" textLength="89.9" lengthAdjust="spacing">vyklíčenia</text>
<text transform="translate(145.00,568.20) scale(0.731,1)" font-size="28.55" fill="#c81e44" stroke="#212830" stroke-width="0.20" textLength="42.8" lengthAdjust="spacing">W2</text>
<text transform="translate(194.20,568.20) scale(0.840,1)" font-size="28.55" fill="#c81e44" stroke="#212830" stroke-width="0.20" textLength="42.6" lengthAdjust="spacing">(6)</text>
<rect x="145.6" y="595.6" width="193.9" height="134.2" fill="none" stroke="#857520" stroke-width="1.1"/>
<line x1="203.2" y1="585.0" x2="203.2" y2="740.0" stroke="#2a64b4" stroke-width="1.3"/>
<path d="M142.6,591.8 A38.7,38.7 0 0 1 186.2,591.8 Z" fill="#eeee14"/>
<circle cx="164.4" cy="623.8" r="38.7" stroke="#dcdc1e" stroke-width="1.45" fill="none"/>
<circle cx="164.4" cy="596.6" r="7.0" stroke="#dcdc1e" stroke-width="1.4" fill="none"/>
<text x="159.8" y="598.8" font-size="7.83" fill="#f4f4f4" font-weight="bold" stroke="#f4f4f4" stroke-width="0.25" textLength="9.2" lengthAdjust="spacingAndGlyphs">5/5</text>
<text transform="translate(154.62,615.60) scale(0.840,1)" font-size="19.13" fill="#f4f4f4" stroke="#212830" stroke-width="0.20" textLength="23.3" lengthAdjust="spacing">Aji</text>
<text transform="translate(145.33,632.90) scale(0.840,1)" font-size="19.13" fill="#f4f4f4" stroke="#212830" stroke-width="0.20" textLength="45.4" lengthAdjust="spacing">Limo</text>
<text transform="translate(146.30,648.40) scale(0.840,1)" font-size="19.13" fill="#f4f4f4" stroke="#212830" stroke-width="0.20" textLength="43.1" lengthAdjust="spacing">Rojo</text>
<circle cx="197.5" cy="591.9" r="7.2" stroke="#9ab8ea" stroke-width="1.0" fill="#9ab8ea"/>
<circle cx="197.5" cy="591.9" r="4.5" stroke="#1c2c70" stroke-width="1.3" fill="none" stroke-dasharray="1.3 1.7" opacity="0.75"/>
<text x="197.5" y="595.4" font-size="10" font-weight="bold" fill="#ffffff" text-anchor="middle">L</text>
<circle cx="242.4" cy="623.8" r="38.7" stroke="#e0a424" stroke-width="1.45" fill="none"/>
<text transform="translate(232.62,614.60) scale(0.840,1)" font-size="19.13" fill="#f4f4f4" stroke="#212830" stroke-width="0.20" textLength="23.3" lengthAdjust="spacing">Aji</text>
<text transform="translate(212.40,631.00) scale(0.840,1)" font-size="19.13" fill="#f4f4f4" stroke="#212830" stroke-width="0.20" textLength="71.4" lengthAdjust="spacing">Fantasy</text>
<text transform="translate(219.91,647.50) scale(0.840,1)" font-size="19.13" fill="#f4f4f4" stroke="#212830" stroke-width="0.20" textLength="53.6" lengthAdjust="spacing">White</text>
<circle cx="320.4" cy="623.8" r="38.7" stroke="#e0a424" stroke-width="1.45" fill="none"/>
<text transform="translate(310.62,621.00) scale(0.840,1)" font-size="19.13" fill="#f4f4f4" stroke="#212830" stroke-width="0.20" textLength="23.3" lengthAdjust="spacing">Aji</text>
<text transform="translate(289.15,637.40) scale(0.840,1)" font-size="19.13" fill="#f4f4f4" stroke="#212830" stroke-width="0.20" textLength="74.4" lengthAdjust="spacing">Amarillo</text>
<path d="M142.6,670.2 A38.7,38.7 0 0 1 186.2,670.2 Z" fill="#eeee14"/>
<circle cx="164.4" cy="702.2" r="38.7" stroke="#dcdc1e" stroke-width="1.45" fill="none"/>
<circle cx="164.4" cy="675.0" r="7.0" stroke="#dcdc1e" stroke-width="1.4" fill="none"/>
<text x="159.8" y="677.2" font-size="7.83" fill="#f4f4f4" font-weight="bold" stroke="#f4f4f4" stroke-width="0.25" textLength="9.2" lengthAdjust="spacingAndGlyphs">5/5</text>
<text transform="translate(154.62,692.10) scale(0.840,1)" font-size="19.13" fill="#f4f4f4" stroke="#212830" stroke-width="0.20" textLength="23.3" lengthAdjust="spacing">Aji</text>
<text transform="translate(127.05,709.50) scale(0.840,1)" font-size="19.13" fill="#f4f4f4" stroke="#212830" stroke-width="0.20" textLength="88.9" lengthAdjust="spacing">Charapita</text>
<text transform="translate(148.26,725.00) scale(0.840,1)" font-size="19.13" fill="#f4f4f4" stroke="#212830" stroke-width="0.20" textLength="38.4" lengthAdjust="spacing">Red</text>
<text x="153.2" y="731.8" font-size="6.67" fill="#f4f4f4" font-weight="bold" stroke="#f4f4f4" stroke-width="0.30" textLength="22.3" lengthAdjust="spacingAndGlyphs">22.01.14</text>
<text x="153.2" y="736.2" font-size="6.67" fill="#f4f4f4" font-weight="bold" stroke="#f4f4f4" stroke-width="0.30" textLength="22.3" lengthAdjust="spacingAndGlyphs">22.01.22</text>
<circle cx="242.4" cy="702.2" r="38.7" stroke="#e0a424" stroke-width="1.45" fill="none"/>
<text transform="translate(232.62,691.20) scale(0.840,1)" font-size="19.13" fill="#f4f4f4" stroke="#212830" stroke-width="0.20" textLength="23.3" lengthAdjust="spacing">Aji</text>
<text transform="translate(215.50,707.60) scale(0.840,1)" font-size="19.13" fill="#f4f4f4" stroke="#212830" stroke-width="0.20" textLength="64.1" lengthAdjust="spacing">Lemon</text>
<text transform="translate(223.33,724.00) scale(0.840,1)" font-size="19.13" fill="#f4f4f4" stroke="#212830" stroke-width="0.20" textLength="45.4" lengthAdjust="spacing">Drop</text>
<path d="M298.6,670.2 A38.7,38.7 0 0 1 342.2,670.2 Z" fill="#f0a818"/>
<circle cx="320.4" cy="702.2" r="38.7" stroke="#e0a424" stroke-width="1.45" fill="none"/>
<text x="315.8" y="677.2" font-size="7.83" fill="#f4f4f4" font-weight="bold" stroke="#f4f4f4" stroke-width="0.25" textLength="9.2" lengthAdjust="spacingAndGlyphs">5/2</text>
<text transform="translate(296.92,692.10) scale(0.840,1)" font-size="19.13" fill="#f4f4f4" stroke="#212830" stroke-width="0.20" textLength="55.9" lengthAdjust="spacing">Sugar</text>
<text transform="translate(299.86,708.60) scale(0.840,1)" font-size="19.13" fill="#f4f4f4" stroke="#212830" stroke-width="0.20" textLength="48.9" lengthAdjust="spacing">Rush</text>
<text transform="translate(295.45,725.00) scale(0.840,1)" font-size="19.13" fill="#f4f4f4" stroke="#212830" stroke-width="0.20" textLength="59.4" lengthAdjust="spacing">Peach</text>
<text x="309.2" y="737.7" font-size="6.67" fill="#f4f4f4" font-weight="bold" stroke="#f4f4f4" stroke-width="0.30" textLength="22.3" lengthAdjust="spacingAndGlyphs">22.01.19</text>
<circle cx="351.6" cy="669.4" r="7.2" stroke="#9ab8ea" stroke-width="1.0" fill="#9ab8ea"/>
<circle cx="351.6" cy="669.4" r="4.5" stroke="#1c2c70" stroke-width="1.3" fill="none" stroke-dasharray="1.3 1.7" opacity="0.75"/>
<text x="351.6" y="672.9" font-size="10" font-weight="bold" fill="#ffffff" text-anchor="middle">L</text>
<line x1="91.3" y1="590.0" x2="91.3" y2="735.0" stroke="#3ee43e" stroke-width="1.4"/>
<line x1="85.8" y1="590.1" x2="96.8" y2="601.1" stroke="#3ee43e" stroke-width="1.4"/>
<line x1="85.8" y1="724.3" x2="96.8" y2="735.3" stroke="#3ee43e" stroke-width="1.4"/>
<line x1="86.8" y1="595.6" x2="127.0" y2="595.6" stroke="#3ee43e" stroke-width="1.4"/>
<line x1="86.8" y1="729.8" x2="127.0" y2="729.8" stroke="#3ee43e" stroke-width="1.4"/>
<text transform="translate(89.5,662.7) rotate(-90)" x="0" y="0" font-size="23.91" fill="#3ee43e" text-anchor="middle" textLength="31.0" lengthAdjust="spacingAndGlyphs">700</text>
<line x1="145.6" y1="750.7" x2="145.6" y2="786.5" stroke="#3ee43e" stroke-width="1.4"/>
<line x1="339.5" y1="750.7" x2="339.5" y2="786.5" stroke="#3ee43e" stroke-width="1.4"/>
<line x1="140.0" y1="782.0" x2="345.0" y2="782.0" stroke="#3ee43e" stroke-width="1.4"/>
<line x1="140.1" y1="787.5" x2="151.1" y2="776.5" stroke="#3ee43e" stroke-width="1.4"/>
<line x1="334.0" y1="787.5" x2="345.0" y2="776.5" stroke="#3ee43e" stroke-width="1.4"/>
<text transform="translate(223.50,780.50) scale(0.760,1)" font-size="22.46" fill="#3ee43e" stroke="#212830" stroke-width="0.20" textLength="50.0" lengthAdjust="spacing">1000</text>
<circle cx="474.2" cy="624.3" r="38.7" stroke="#a42cc0" stroke-width="2.0" fill="none"/>
<text transform="translate(453.40,613.80) scale(0.840,1)" font-size="19.13" fill="#f4f4f4" stroke="#212830" stroke-width="0.20" textLength="49.5" lengthAdjust="spacing">Black</text>
<text transform="translate(440.05,628.30) scale(0.840,1)" font-size="19.13" fill="#f4f4f4" stroke="#212830" stroke-width="0.20" textLength="81.3" lengthAdjust="spacing">Scorpion</text>
<text transform="translate(446.20,645.60) scale(0.840,1)" font-size="19.13" fill="#f4f4f4" stroke="#212830" stroke-width="0.20" textLength="66.7" lengthAdjust="spacing">Tongue</text>
<circle cx="506.4" cy="592.3" r="6.8" stroke="#e8e8e8" stroke-width="1.3" fill="none"/>
<text x="506.4" y="595.7" font-size="9.5" font-weight="bold" fill="#ffffff" text-anchor="middle">J</text>
<path d="M530.6,592.3 A38.7,38.7 0 0 1 574.2,592.3 Z" fill="#ff1414"/>
<circle cx="552.4" cy="624.3" r="38.7" stroke="#c02020" stroke-width="1.45" fill="none"/>
<text x="547.8" y="599.3" font-size="7.83" fill="#f4f4f4" font-weight="bold" stroke="#f4f4f4" stroke-width="0.25" textLength="9.2" lengthAdjust="spacingAndGlyphs">3/0</text>
<text transform="translate(525.90,612.40) scale(0.840,1)" font-size="17.97" fill="#f4f4f4" stroke="#212830" stroke-width="0.20" textLength="63.1" lengthAdjust="spacing">Rocoto</text>
<text transform="translate(518.40,628.30) scale(0.840,1)" font-size="17.97" fill="#f4f4f4" stroke="#212830" stroke-width="0.20" textLength="81.0" lengthAdjust="spacing">Cristobal</text>
<text transform="translate(518.40,645.60) scale(0.840,1)" font-size="17.97" fill="#f4f4f4" stroke="#212830" stroke-width="0.20" textLength="81.0" lengthAdjust="spacing">Colombo</text>
<text x="541.2" y="654.0" font-size="6.67" fill="#f4f4f4" font-weight="bold" stroke="#f4f4f4" stroke-width="0.30" textLength="22.3" lengthAdjust="spacingAndGlyphs">22.01.30</text>
<text x="540.6" y="659.5" font-size="6.67" fill="#f4f4f4" font-weight="bold" stroke="#f4f4f4" stroke-width="0.30" textLength="23.6" lengthAdjust="spacingAndGlyphs">22.02.XX</text>
<path d="M684.6,592.3 A38.7,38.7 0 0 1 728.2,592.3 Z" fill="#eeee14"/>
<circle cx="706.4" cy="624.3" r="38.7" stroke="#dcdc1e" stroke-width="1.45" fill="none"/>
<circle cx="706.4" cy="597.1" r="7.0" stroke="#dcdc1e" stroke-width="1.4" fill="none"/>
<text x="701.8" y="599.3" font-size="7.83" fill="#f4f4f4" font-weight="bold" stroke="#f4f4f4" stroke-width="0.25" textLength="9.2" lengthAdjust="spacingAndGlyphs">5/5</text>
<text transform="translate(685.00,621.00) scale(0.730,1)" font-size="20.29" fill="#f4f4f4" stroke="#212830" stroke-width="0.20" textLength="58.6" lengthAdjust="spacing">BRMX</text>
<text x="688.4" y="633.2" font-size="8.12" fill="#f4f4f4" font-weight="bold" textLength="7.9" lengthAdjust="spacingAndGlyphs">Big</text>
<text x="698.8" y="633.2" font-size="8.12" fill="#f4f4f4" font-weight="bold" textLength="9.2" lengthAdjust="spacingAndGlyphs">Red</text>
<text x="710.5" y="633.2" font-size="8.12" fill="#f4f4f4" font-weight="bold" textLength="13.9" lengthAdjust="spacingAndGlyphs">Mama</text>
<text x="704.9" y="637.9" font-size="5.80" fill="#f4f4f4" font-weight="bold" textLength="3.0" lengthAdjust="spacingAndGlyphs">x</text>
<text x="686.4" y="644.1" font-size="8.12" fill="#f4f4f4" font-weight="bold" textLength="21.5" lengthAdjust="spacingAndGlyphs">Cayenne</text>
<text x="710.4" y="644.1" font-size="8.12" fill="#f4f4f4" font-weight="bold" textLength="16.0" lengthAdjust="spacingAndGlyphs">Yellow</text>
<text x="695.2" y="660.4" font-size="6.67" fill="#f4f4f4" font-weight="bold" stroke="#f4f4f4" stroke-width="0.30" textLength="22.3" lengthAdjust="spacingAndGlyphs">22.01.10</text>
<circle cx="738.4" cy="592.3" r="7.2" stroke="#0e5c1c" stroke-width="1.0" fill="#0e5c1c"/>
<text x="738.4" y="595.8" font-size="10" font-weight="bold" fill="#d4f4d4" text-anchor="middle">G</text>
<path d="M762.0,592.3 A38.7,38.7 0 0 1 805.5,592.3 Z" fill="#eeee14"/>
<circle cx="783.8" cy="624.3" r="38.7" stroke="#dcdc1e" stroke-width="1.45" fill="none"/>
<circle cx="783.8" cy="597.1" r="7.0" stroke="#dcdc1e" stroke-width="1.4" fill="none"/>
<text x="779.2" y="599.3" font-size="7.83" fill="#f4f4f4" font-weight="bold" stroke="#f4f4f4" stroke-width="0.25" textLength="9.2" lengthAdjust="spacingAndGlyphs">5/5</text>
<text transform="translate(764.03,631.30) scale(0.773,1)" font-size="19.57" fill="#f4f4f4" stroke="#212830" stroke-width="0.20" textLength="51.1" lengthAdjust="spacing">JPGS</text>
<text x="772.6" y="660.4" font-size="6.67" fill="#f4f4f4" font-weight="bold" stroke="#f4f4f4" stroke-width="0.30" textLength="22.3" lengthAdjust="spacingAndGlyphs">22.01.20</text>
<circle cx="815.8" cy="592.3" r="7.2" stroke="#9ab8ea" stroke-width="1.0" fill="#9ab8ea"/>
<circle cx="815.8" cy="592.3" r="4.5" stroke="#1c2c70" stroke-width="1.3" fill="none" stroke-dasharray="1.3 1.7" opacity="0.75"/>
<text x="815.8" y="595.8" font-size="10" font-weight="bold" fill="#ffffff" text-anchor="middle">L</text>
<path d="M839.4,592.3 A38.7,38.7 0 0 1 882.9,592.3 Z" fill="#eeee14"/>
<circle cx="861.2" cy="624.3" r="38.7" stroke="#dcdc1e" stroke-width="1.45" fill="none"/>
<text x="856.5" y="599.3" font-size="7.83" fill="#f4f4f4" font-weight="bold" stroke="#f4f4f4" stroke-width="0.25" textLength="9.2" lengthAdjust="spacingAndGlyphs">5/2</text>
<text transform="translate(826.56,624.80) scale(0.840,1)" font-size="19.13" fill="#f4f4f4" stroke="#212830" stroke-width="0.20" textLength="82.4" lengthAdjust="spacing">Dragon's</text>
<text transform="translate(835.76,641.70) scale(0.840,1)" font-size="19.13" fill="#f4f4f4" stroke="#212830" stroke-width="0.20" textLength="60.5" lengthAdjust="spacing">Breath</text>
<text x="850.0" y="660.4" font-size="6.67" fill="#f4f4f4" font-weight="bold" stroke="#f4f4f4" stroke-width="0.30" textLength="22.3" lengthAdjust="spacingAndGlyphs">22.01.19</text>
<circle cx="893.2" cy="592.3" r="7.2" stroke="#7c5a14" stroke-width="1.0" fill="#7c5a14"/>
<text x="893.2" y="595.8" font-size="10" font-weight="bold" fill="#ffffff" text-anchor="middle">K</text>
<path d="M916.8,592.3 A38.7,38.7 0 0 1 960.3,592.3 Z" fill="#eeee14"/>
<circle cx="938.5" cy="624.3" r="38.7" stroke="#dcdc1e" stroke-width="1.45" fill="none"/>
<text x="933.9" y="599.3" font-size="7.83" fill="#f4f4f4" font-weight="bold" stroke="#f4f4f4" stroke-width="0.25" textLength="9.2" lengthAdjust="spacingAndGlyphs">5/4</text>
<text transform="translate(912.78,614.40) scale(0.840,1)" font-size="17.68" fill="#f4f4f4" stroke="#212830" stroke-width="0.19" textLength="61.3" lengthAdjust="spacing">NuMex</text>
<text transform="translate(915.48,631.30) scale(0.840,1)" font-size="17.68" fill="#f4f4f4" stroke="#212830" stroke-width="0.19" textLength="54.9" lengthAdjust="spacing">Suave</text>
<text transform="translate(911.41,647.30) scale(0.840,1)" font-size="17.68" fill="#f4f4f4" stroke="#212830" stroke-width="0.19" textLength="64.6" lengthAdjust="spacing">Orange</text>
<path d="M994.2,592.3 A38.7,38.7 0 0 1 1037.7,592.3 Z" fill="#eeee14"/>
<circle cx="1015.9" cy="624.3" r="38.7" stroke="#dcdc1e" stroke-width="1.45" fill="none"/>
<text x="1011.3" y="599.3" font-size="7.83" fill="#f4f4f4" font-weight="bold" stroke="#f4f4f4" stroke-width="0.25" textLength="9.2" lengthAdjust="spacingAndGlyphs">5/4</text>
<text transform="translate(981.32,626.70) scale(0.840,1)" font-size="17.68" fill="#f4f4f4" stroke="#212830" stroke-width="0.19" textLength="82.4" lengthAdjust="spacing">Bahamian</text>
<text transform="translate(998.29,641.70) scale(0.840,1)" font-size="17.68" fill="#f4f4f4" stroke="#212830" stroke-width="0.19" textLength="42.0" lengthAdjust="spacing">Goat</text>
<path d="M1071.5,592.3 A38.7,38.7 0 0 1 1115.1,592.3 Z" fill="#eeee14"/>
<circle cx="1093.3" cy="624.3" r="38.7" stroke="#dcdc1e" stroke-width="1.45" fill="none"/>
<text x="1088.7" y="599.3" font-size="7.83" fill="#f4f4f4" font-weight="bold" stroke="#f4f4f4" stroke-width="0.25" textLength="9.2" lengthAdjust="spacingAndGlyphs">5/3</text>
<text transform="translate(1069.48,615.40) scale(0.840,1)" font-size="18.26" fill="#f4f4f4" stroke="#212830" stroke-width="0.20" textLength="56.7" lengthAdjust="spacing">Peach</text>
<text transform="translate(1063.70,632.30) scale(0.840,1)" font-size="18.26" fill="#f4f4f4" stroke="#212830" stroke-width="0.20" textLength="70.5" lengthAdjust="spacing">Trinidad</text>
<text transform="translate(1063.30,647.30) scale(0.833,1)" font-size="18.26" fill="#f4f4f4" stroke="#212830" stroke-width="0.20" textLength="72.1" lengthAdjust="spacing">Scorpion</text>
<path d="M1148.9,592.3 A38.7,38.7 0 0 1 1192.4,592.3 Z" fill="#eeee14"/>
<circle cx="1170.7" cy="624.3" r="38.7" stroke="#dcdc1e" stroke-width="1.45" fill="none"/>
<text x="1166.1" y="599.3" font-size="7.83" fill="#f4f4f4" font-weight="bold" stroke="#f4f4f4" stroke-width="0.25" textLength="9.2" lengthAdjust="spacingAndGlyphs">5/2</text>
<text transform="translate(1145.88,616.70) scale(0.840,1)" font-size="17.97" fill="#f4f4f4" stroke="#212830" stroke-width="0.20" textLength="59.1" lengthAdjust="spacing">B.O.C.</text>
<text transform="translate(1167.51,632.30) scale(0.920,1)" font-size="13.77" fill="#f4f4f4" stroke="#212830" stroke-width="0.15">x</text>
<text transform="translate(1149.09,649.20) scale(0.840,1)" font-size="17.97" fill="#f4f4f4" stroke="#212830" stroke-width="0.20" textLength="51.4" lengthAdjust="spacing">Primo</text>
<circle cx="1202.7" cy="592.3" r="7.2" stroke="#d27ed6" stroke-width="1.0" fill="#d27ed6"/>
<circle cx="1202.7" cy="592.3" r="4.5" stroke="#4a1450" stroke-width="1.3" fill="none" stroke-dasharray="1.3 1.7" opacity="0.75"/>
<text x="1202.7" y="595.8" font-size="10" font-weight="bold" fill="#ffffff" text-anchor="middle">K</text>
<path d="M839.4,669.6 A38.7,38.7 0 0 1 882.9,669.6 Z" fill="#eeee14"/>
<circle cx="861.2" cy="701.6" r="38.7" stroke="#dcdc1e" stroke-width="1.45" fill="none"/>
<text x="856.5" y="676.6" font-size="7.83" fill="#f4f4f4" font-weight="bold" stroke="#f4f4f4" stroke-width="0.25" textLength="9.2" lengthAdjust="spacingAndGlyphs">5/3</text>
<text transform="translate(835.36,709.50) scale(0.840,1)" font-size="18.99" fill="#f4f4f4" stroke="#212830" stroke-width="0.20" textLength="61.4" lengthAdjust="spacing">Kraken</text>
<text x="850.0" y="730.6" font-size="6.67" fill="#f4f4f4" font-weight="bold" stroke="#f4f4f4" stroke-width="0.30" textLength="22.3" lengthAdjust="spacingAndGlyphs">22.01.22</text>
<text x="850.0" y="734.6" font-size="6.67" fill="#f4f4f4" font-weight="bold" stroke="#f4f4f4" stroke-width="0.30" textLength="22.3" lengthAdjust="spacingAndGlyphs">22.01.22</text>
<circle cx="893.2" cy="669.6" r="7.2" stroke="#9ab8ea" stroke-width="1.0" fill="#9ab8ea"/>
<circle cx="893.2" cy="669.6" r="4.5" stroke="#1c2c70" stroke-width="1.3" fill="none" stroke-dasharray="1.3 1.7" opacity="0.75"/>
<text x="893.2" y="673.1" font-size="10" font-weight="bold" fill="#ffffff" text-anchor="middle">L</text>
<path d="M916.8,669.6 A38.7,38.7 0 0 1 960.3,669.6 Z" fill="#eeee14"/>
<circle cx="938.5" cy="701.6" r="38.7" stroke="#dcdc1e" stroke-width="1.45" fill="none"/>
<circle cx="938.5" cy="674.4" r="7.0" stroke="#dcdc1e" stroke-width="1.4" fill="none"/>
<text x="933.9" y="676.6" font-size="7.83" fill="#f4f4f4" font-weight="bold" stroke="#f4f4f4" stroke-width="0.25" textLength="9.2" lengthAdjust="spacingAndGlyphs">5/5</text>
<text transform="translate(916.84,699.60) scale(0.840,1)" font-size="17.68" fill="#f4f4f4" stroke="#212830" stroke-width="0.19" textLength="51.7" lengthAdjust="spacing">Erben</text>
<text transform="translate(910.96,716.50) scale(0.840,1)" font-size="17.68" fill="#f4f4f4" stroke="#212830" stroke-width="0.19" textLength="65.7" lengthAdjust="spacing">Cuckoo</text>
<text x="927.4" y="730.6" font-size="6.67" fill="#f4f4f4" font-weight="bold" stroke="#f4f4f4" stroke-width="0.30" textLength="22.3" lengthAdjust="spacingAndGlyphs">22.01.16</text>
<text x="927.4" y="734.6" font-size="6.67" fill="#f4f4f4" font-weight="bold" stroke="#f4f4f4" stroke-width="0.30" textLength="22.3" lengthAdjust="spacingAndGlyphs">22.01.16</text>
<circle cx="970.5" cy="669.6" r="7.2" stroke="#0e5c1c" stroke-width="1.0" fill="#0e5c1c"/>
<text x="970.5" y="673.1" font-size="10" font-weight="bold" fill="#d4f4d4" text-anchor="middle">G</text>
<path d="M1148.9,669.6 A38.7,38.7 0 0 1 1192.4,669.6 Z" fill="#eeee14"/>
<circle cx="1170.7" cy="701.6" r="38.7" stroke="#dcdc1e" stroke-width="1.45" fill="none"/>
<text x="1166.1" y="674.4" font-size="7.83" fill="#f4f4f4" font-weight="bold" stroke="#f4f4f4" stroke-width="0.25" textLength="9.2" lengthAdjust="spacingAndGlyphs">5/2</text>
<text x="1155.7" y="682.7" font-size="8.41" fill="#f4f4f4" font-weight="bold" textLength="30.0" lengthAdjust="spacingAndGlyphs">Pimenta</text>
<text transform="translate(1139.68,694.30) scale(0.840,1)" font-size="16.23" fill="#f4f4f4" stroke="#212830" stroke-width="0.18" textLength="73.8" lengthAdjust="spacing">Leopard</text>
<text transform="translate(1166.95,710.30) scale(0.920,1)" font-size="16.23" fill="#f4f4f4" stroke="#212830" stroke-width="0.18">x</text>
<text transform="translate(1138.68,722.50) scale(0.840,1)" font-size="16.23" fill="#f4f4f4" stroke="#212830" stroke-width="0.18" textLength="76.2" lengthAdjust="spacing">Carolina</text>
<text x="1156.2" y="731.9" font-size="9.28" fill="#f4f4f4" font-weight="bold" textLength="29.0" lengthAdjust="spacingAndGlyphs">Reaper</text>
<circle cx="1202.7" cy="669.6" r="7.2" stroke="#d27ed6" stroke-width="1.0" fill="#d27ed6"/>
<circle cx="1202.7" cy="669.6" r="4.5" stroke="#4a1450" stroke-width="1.3" fill="none" stroke-dasharray="1.3 1.7" opacity="0.75"/>
<text x="1202.7" y="673.1" font-size="10" font-weight="bold" fill="#ffffff" text-anchor="middle">K</text>
<path d="M684.6,746.9 A38.7,38.7 0 0 1 728.2,746.9 Z" fill="#eeee14"/>
<circle cx="706.4" cy="778.9" r="38.7" stroke="#dcdc1e" stroke-width="1.45" fill="none"/>
<text x="701.8" y="753.9" font-size="7.83" fill="#f4f4f4" font-weight="bold" stroke="#f4f4f4" stroke-width="0.25" textLength="9.2" lengthAdjust="spacingAndGlyphs">3/0</text>
<text transform="translate(681.70,786.40) scale(0.840,1)" font-size="19.57" fill="#f4f4f4" stroke="#212830" stroke-width="0.20" textLength="58.8" lengthAdjust="spacing">Čajník</text>
<text x="695.2" y="809.9" font-size="6.67" fill="#f4f4f4" font-weight="bold" stroke="#f4f4f4" stroke-width="0.30" textLength="22.3" lengthAdjust="spacingAndGlyphs">22.01.30</text>
<text x="694.6" y="814.6" font-size="6.67" fill="#f4f4f4" font-weight="bold" stroke="#f4f4f4" stroke-width="0.30" textLength="23.6" lengthAdjust="spacingAndGlyphs">22.02.XX</text>
<circle cx="738.4" cy="746.9" r="6.8" stroke="#e8e8e8" stroke-width="1.3" fill="none"/>
<text x="738.4" y="750.3" font-size="9.5" font-weight="bold" fill="#ffffff" text-anchor="middle">C</text>
<path d="M762.0,746.9 A38.7,38.7 0 0 1 805.5,746.9 Z" fill="#eeee14"/>
<circle cx="783.8" cy="778.9" r="38.7" stroke="#dcdc1e" stroke-width="1.45" fill="none"/>
<text x="779.2" y="753.9" font-size="7.83" fill="#f4f4f4" font-weight="bold" stroke="#f4f4f4" stroke-width="0.25" textLength="9.2" lengthAdjust="spacingAndGlyphs">3/0</text>
<text transform="translate(763.38,786.40) scale(0.789,1)" font-size="18.99" fill="#f4f4f4" stroke="#212830" stroke-width="0.20" textLength="51.7" lengthAdjust="spacing">LUBO</text>
<text x="772.6" y="809.9" font-size="6.67" fill="#f4f4f4" font-weight="bold" stroke="#f4f4f4" stroke-width="0.30" textLength="22.3" lengthAdjust="spacingAndGlyphs">22.01.30</text>
<text x="772.0" y="814.6" font-size="6.67" fill="#f4f4f4" font-weight="bold" stroke="#f4f4f4" stroke-width="0.30" textLength="23.6" lengthAdjust="spacingAndGlyphs">22.02.XX</text>
<circle cx="815.8" cy="746.9" r="6.8" stroke="#e8e8e8" stroke-width="1.3" fill="none"/>
<text x="815.8" y="750.3" font-size="9.5" font-weight="bold" fill="#ffffff" text-anchor="middle">L</text>
<path d="M375.1,824.2 A38.7,38.7 0 0 1 418.6,824.2 Z" fill="#eeee14"/>
<circle cx="396.9" cy="856.2" r="38.7" stroke="#dcdc1e" stroke-width="1.45" fill="none"/>
<text x="392.3" y="831.2" font-size="7.83" fill="#f4f4f4" font-weight="bold" stroke="#f4f4f4" stroke-width="0.25" textLength="9.2" lengthAdjust="spacingAndGlyphs">5/0</text>
<text transform="translate(366.73,851.90) scale(0.840,1)" font-size="14.49" fill="#f4f4f4" stroke="#212830" stroke-width="0.16" textLength="71.8" lengthAdjust="spacing">Habanero</text>
<text transform="translate(382.58,870.20) scale(0.815,1)" font-size="19.13" fill="#f4f4f4" stroke="#212830" stroke-width="0.20" textLength="35.1" lengthAdjust="spacing">Red</text>
<text x="389.5" y="879.0" font-size="8.70" fill="#f4f4f4" font-weight="bold" textLength="14.7" lengthAdjust="spacingAndGlyphs">Blix</text>
<text x="385.7" y="887.1" font-size="6.67" fill="#f4f4f4" font-weight="bold" stroke="#f4f4f4" stroke-width="0.30" textLength="22.3" lengthAdjust="spacingAndGlyphs">22.01.30</text>
<text x="385.1" y="892.2" font-size="6.67" fill="#f4f4f4" font-weight="bold" stroke="#f4f4f4" stroke-width="0.30" textLength="23.6" lengthAdjust="spacingAndGlyphs">22.02.XX</text>
<circle cx="428.9" cy="824.2" r="7.2" stroke="#de8440" stroke-width="1.0" fill="#de8440"/>
<circle cx="428.9" cy="824.2" r="4.5" stroke="#5a1a08" stroke-width="1.3" fill="none" stroke-dasharray="1.3 1.7" opacity="0.75"/>
<text x="428.9" y="827.7" font-size="10" font-weight="bold" fill="#ffffff" text-anchor="middle">B</text>
<path d="M452.5,824.2 A38.7,38.7 0 0 1 496.0,824.2 Z" fill="#eeee14"/>
<circle cx="474.3" cy="856.2" r="38.7" stroke="#dcdc1e" stroke-width="1.45" fill="none"/>
<text x="469.6" y="831.2" font-size="7.83" fill="#f4f4f4" font-weight="bold" stroke="#f4f4f4" stroke-width="0.25" textLength="9.2" lengthAdjust="spacingAndGlyphs">5/0</text>
<text transform="translate(459.26,851.90) scale(0.721,1)" font-size="19.71" fill="#f4f4f4" stroke="#212830" stroke-width="0.20" textLength="41.6" lengthAdjust="spacing">TSM</text>
<text transform="translate(459.96,870.20) scale(0.815,1)" font-size="19.13" fill="#f4f4f4" stroke="#212830" stroke-width="0.20" textLength="35.1" lengthAdjust="spacing">Red</text>
<text x="466.9" y="879.0" font-size="8.70" fill="#f4f4f4" font-weight="bold" textLength="14.7" lengthAdjust="spacingAndGlyphs">Blix</text>
<text x="463.1" y="887.1" font-size="6.67" fill="#f4f4f4" font-weight="bold" stroke="#f4f4f4" stroke-width="0.30" textLength="22.3" lengthAdjust="spacingAndGlyphs">22.01.30</text>
<text x="462.5" y="892.2" font-size="6.67" fill="#f4f4f4" font-weight="bold" stroke="#f4f4f4" stroke-width="0.30" textLength="23.6" lengthAdjust="spacingAndGlyphs">22.02.XX</text>
<circle cx="506.3" cy="824.2" r="7.2" stroke="#de8440" stroke-width="1.0" fill="#de8440"/>
<circle cx="506.3" cy="824.2" r="4.5" stroke="#5a1a08" stroke-width="1.3" fill="none" stroke-dasharray="1.3 1.7" opacity="0.75"/>
<text x="506.3" y="827.7" font-size="10" font-weight="bold" fill="#ffffff" text-anchor="middle">B</text>
<path d="M529.9,824.2 A38.7,38.7 0 0 1 573.4,824.2 Z" fill="#eeee14"/>
<circle cx="551.6" cy="856.2" r="38.7" stroke="#dcdc1e" stroke-width="1.45" fill="none"/>
<text x="547.0" y="831.2" font-size="7.83" fill="#f4f4f4" font-weight="bold" stroke="#f4f4f4" stroke-width="0.25" textLength="9.2" lengthAdjust="spacingAndGlyphs">5/0</text>
<text transform="translate(524.64,850.10) scale(0.840,1)" font-size="17.39" fill="#f4f4f4" stroke="#212830" stroke-width="0.19" textLength="64.3" lengthAdjust="spacing">Jolokia</text>
<text transform="translate(538.14,869.20) scale(0.840,1)" font-size="17.68" fill="#f4f4f4" stroke="#212830" stroke-width="0.19" textLength="32.1" lengthAdjust="spacing">Blix</text>
<text x="528.6" y="879.6" font-size="10.14" fill="#f4f4f4" font-weight="bold" textLength="46.0" lengthAdjust="spacingAndGlyphs">Red&gt;Orange</text>
<text x="540.5" y="887.1" font-size="6.67" fill="#f4f4f4" font-weight="bold" stroke="#f4f4f4" stroke-width="0.30" textLength="22.3" lengthAdjust="spacingAndGlyphs">22.01.30</text>
<text x="539.8" y="892.2" font-size="6.67" fill="#f4f4f4" font-weight="bold" stroke="#f4f4f4" stroke-width="0.30" textLength="23.6" lengthAdjust="spacingAndGlyphs">22.02.XX</text>
<circle cx="583.6" cy="824.2" r="7.2" stroke="#de8440" stroke-width="1.0" fill="#de8440"/>
<circle cx="583.6" cy="824.2" r="4.5" stroke="#5a1a08" stroke-width="1.3" fill="none" stroke-dasharray="1.3 1.7" opacity="0.75"/>
<text x="583.6" y="827.7" font-size="10" font-weight="bold" fill="#ffffff" text-anchor="middle">B</text>
<path d="M607.3,824.2 A38.7,38.7 0 0 1 650.8,824.2 Z" fill="#eeee14"/>
<circle cx="629.0" cy="856.2" r="38.7" stroke="#dcdc1e" stroke-width="1.45" fill="none"/>
<text x="624.4" y="831.2" font-size="7.83" fill="#f4f4f4" font-weight="bold" stroke="#f4f4f4" stroke-width="0.25" textLength="9.2" lengthAdjust="spacingAndGlyphs">3/0</text>
<text transform="translate(602.02,850.10) scale(0.840,1)" font-size="17.39" fill="#f4f4f4" stroke="#212830" stroke-width="0.19" textLength="64.3" lengthAdjust="spacing">Jolokia</text>
<text transform="translate(615.52,869.20) scale(0.840,1)" font-size="17.68" fill="#f4f4f4" stroke="#212830" stroke-width="0.19" textLength="32.1" lengthAdjust="spacing">Blix</text>
<text x="605.0" y="879.6" font-size="10.14" fill="#f4f4f4" font-weight="bold" textLength="48.0" lengthAdjust="spacingAndGlyphs">White&gt;Yellow</text>
<text x="617.9" y="887.1" font-size="6.67" fill="#f4f4f4" font-weight="bold" stroke="#f4f4f4" stroke-width="0.30" textLength="22.3" lengthAdjust="spacingAndGlyphs">22.01.30</text>
<text x="617.2" y="892.2" font-size="6.67" fill="#f4f4f4" font-weight="bold" stroke="#f4f4f4" stroke-width="0.30" textLength="23.6" lengthAdjust="spacingAndGlyphs">22.02.XX</text>
<circle cx="661.0" cy="824.2" r="7.2" stroke="#de8440" stroke-width="1.0" fill="#de8440"/>
<circle cx="661.0" cy="824.2" r="4.5" stroke="#5a1a08" stroke-width="1.3" fill="none" stroke-dasharray="1.3 1.7" opacity="0.75"/>
<text x="661.0" y="827.7" font-size="10" font-weight="bold" fill="#ffffff" text-anchor="middle">B</text>
<path d="M684.6,824.2 A38.7,38.7 0 0 1 728.2,824.2 Z" fill="#eeee14"/>
<circle cx="706.4" cy="856.2" r="38.7" stroke="#dcdc1e" stroke-width="1.45" fill="none"/>
<text x="701.8" y="831.2" font-size="7.83" fill="#f4f4f4" font-weight="bold" stroke="#f4f4f4" stroke-width="0.25" textLength="9.2" lengthAdjust="spacingAndGlyphs">5/0</text>
<text transform="translate(688.10,860.70) scale(0.840,1)" font-size="18.99" fill="#f4f4f4" stroke="#212830" stroke-width="0.20" textLength="43.6" lengthAdjust="spacing">Blixa</text>
<text x="684.4" y="873.3" font-size="8.70" fill="#f4f4f4" font-weight="bold" textLength="5.1" lengthAdjust="spacingAndGlyphs">?</text>
<text x="692.2" y="873.3" font-size="8.70" fill="#f4f4f4" font-weight="bold" textLength="4.7" lengthAdjust="spacingAndGlyphs">x</text>
<text x="699.6" y="873.3" font-size="8.70" fill="#f4f4f4" font-weight="bold" textLength="28.8" lengthAdjust="spacingAndGlyphs">Jolokia</text>
<text x="695.2" y="887.1" font-size="6.67" fill="#f4f4f4" font-weight="bold" stroke="#f4f4f4" stroke-width="0.30" textLength="22.3" lengthAdjust="spacingAndGlyphs">22.01.30</text>
<text x="694.6" y="892.2" font-size="6.67" fill="#f4f4f4" font-weight="bold" stroke="#f4f4f4" stroke-width="0.30" textLength="23.6" lengthAdjust="spacingAndGlyphs">22.02.XX</text>
<circle cx="738.4" cy="824.2" r="7.2" stroke="#de8440" stroke-width="1.0" fill="#de8440"/>
<circle cx="738.4" cy="824.2" r="4.5" stroke="#5a1a08" stroke-width="1.3" fill="none" stroke-dasharray="1.3 1.7" opacity="0.75"/>
<text x="738.4" y="827.7" font-size="10" font-weight="bold" fill="#ffffff" text-anchor="middle">B</text>
<path d="M762.0,824.2 A38.7,38.7 0 0 1 805.5,824.2 Z" fill="#eeee14"/>
<circle cx="783.8" cy="856.2" r="38.7" stroke="#dcdc1e" stroke-width="1.45" fill="none"/>
<circle cx="783.8" cy="829.0" r="7.0" stroke="#dcdc1e" stroke-width="1.4" fill="none"/>
<text x="779.2" y="831.2" font-size="7.83" fill="#f4f4f4" font-weight="bold" stroke="#f4f4f4" stroke-width="0.25" textLength="9.2" lengthAdjust="spacingAndGlyphs">5/5</text>
<text transform="translate(765.48,860.70) scale(0.840,1)" font-size="18.99" fill="#f4f4f4" stroke="#212830" stroke-width="0.20" textLength="43.6" lengthAdjust="spacing">Blixa</text>
<text x="757.8" y="873.3" font-size="8.70" fill="#f4f4f4" font-weight="bold" textLength="5.2" lengthAdjust="spacingAndGlyphs">?</text>
<text x="765.7" y="873.3" font-size="8.70" fill="#f4f4f4" font-weight="bold" textLength="4.7" lengthAdjust="spacingAndGlyphs">x</text>
<text x="773.1" y="873.3" font-size="8.70" fill="#f4f4f4" font-weight="bold" textLength="17.9" lengthAdjust="spacingAndGlyphs">TSM</text>
<text x="793.7" y="873.3" font-size="8.70" fill="#f4f4f4" font-weight="bold" textLength="16.1" lengthAdjust="spacingAndGlyphs">Red</text>
<text x="772.6" y="887.1" font-size="6.67" fill="#f4f4f4" font-weight="bold" stroke="#f4f4f4" stroke-width="0.30" textLength="22.3" lengthAdjust="spacingAndGlyphs">22.01.14</text>
<text x="772.0" y="892.2" font-size="6.67" fill="#f4f4f4" font-weight="bold" stroke="#f4f4f4" stroke-width="0.30" textLength="23.6" lengthAdjust="spacingAndGlyphs">22.02.XX</text>
<circle cx="815.8" cy="824.2" r="7.2" stroke="#de8440" stroke-width="1.0" fill="#de8440"/>
<circle cx="815.8" cy="824.2" r="4.5" stroke="#5a1a08" stroke-width="1.3" fill="none" stroke-dasharray="1.3 1.7" opacity="0.75"/>
<text x="815.8" y="827.7" font-size="10" font-weight="bold" fill="#ffffff" text-anchor="middle">B</text>
<path d="M839.4,824.2 A38.7,38.7 0 0 1 882.9,824.2 Z" fill="#eeee14"/>
<circle cx="861.2" cy="856.2" r="38.7" stroke="#dcdc1e" stroke-width="1.45" fill="none"/>
<text x="856.5" y="831.2" font-size="7.83" fill="#f4f4f4" font-weight="bold" stroke="#f4f4f4" stroke-width="0.25" textLength="9.2" lengthAdjust="spacingAndGlyphs">5/0</text>
<text transform="translate(840.81,863.90) scale(0.836,1)" font-size="18.26" fill="#f4f4f4" stroke="#212830" stroke-width="0.20" textLength="48.7" lengthAdjust="spacing">3XNR</text>
<text x="850.0" y="887.1" font-size="6.67" fill="#f4f4f4" font-weight="bold" stroke="#f4f4f4" stroke-width="0.30" textLength="22.3" lengthAdjust="spacingAndGlyphs">22.01.30</text>
<text x="849.4" y="892.2" font-size="6.67" fill="#f4f4f4" font-weight="bold" stroke="#f4f4f4" stroke-width="0.30" textLength="23.6" lengthAdjust="spacingAndGlyphs">22.02.XX</text>
<circle cx="893.2" cy="824.2" r="7.2" stroke="#de8440" stroke-width="1.0" fill="#de8440"/>
<circle cx="893.2" cy="824.2" r="4.5" stroke="#5a1a08" stroke-width="1.3" fill="none" stroke-dasharray="1.3 1.7" opacity="0.75"/>
<text x="893.2" y="827.7" font-size="10" font-weight="bold" fill="#ffffff" text-anchor="middle">B</text>
<path d="M994.2,824.2 A38.7,38.7 0 0 1 1037.7,824.2 Z" fill="#eeee14"/>
<circle cx="1015.9" cy="856.2" r="38.7" stroke="#dcdc1e" stroke-width="1.45" fill="none"/>
<text x="1011.3" y="831.2" font-size="7.83" fill="#f4f4f4" font-weight="bold" stroke="#f4f4f4" stroke-width="0.25" textLength="9.2" lengthAdjust="spacingAndGlyphs">5/4</text>
<text transform="translate(995.52,855.10) scale(0.840,1)" font-size="18.55" fill="#f4f4f4" stroke="#212830" stroke-width="0.20" textLength="48.6" lengthAdjust="spacing">Naga</text>
<text transform="translate(991.42,870.90) scale(0.840,1)" font-size="18.55" fill="#f4f4f4" stroke="#212830" stroke-width="0.20" textLength="58.3" lengthAdjust="spacing">Morich</text>
<path d="M1071.5,824.2 A38.7,38.7 0 0 1 1115.1,824.2 Z" fill="#eeee14"/>
<circle cx="1093.3" cy="856.2" r="38.7" stroke="#dcdc1e" stroke-width="1.45" fill="none"/>
<text x="1088.7" y="831.2" font-size="7.83" fill="#f4f4f4" font-weight="bold" stroke="#f4f4f4" stroke-width="0.25" textLength="9.2" lengthAdjust="spacingAndGlyphs">5/3</text>
<text transform="translate(1068.80,855.10) scale(0.840,1)" font-size="18.55" fill="#f4f4f4" stroke="#212830" stroke-width="0.20" textLength="58.3" lengthAdjust="spacing">Dorset</text>
<text transform="translate(1072.90,872.20) scale(0.840,1)" font-size="18.55" fill="#f4f4f4" stroke="#212830" stroke-width="0.20" textLength="48.6" lengthAdjust="spacing">Naga</text>
<path d="M1148.9,824.2 A38.7,38.7 0 0 1 1192.4,824.2 Z" fill="#eeee14"/>
<circle cx="1170.7" cy="856.2" r="38.7" stroke="#dcdc1e" stroke-width="1.45" fill="none"/>
<circle cx="1170.7" cy="829.0" r="7.0" stroke="#dcdc1e" stroke-width="1.4" fill="none"/>
<text x="1166.1" y="831.2" font-size="7.83" fill="#f4f4f4" font-weight="bold" stroke="#f4f4f4" stroke-width="0.25" textLength="9.2" lengthAdjust="spacingAndGlyphs">5/5</text>
<text transform="translate(1144.18,855.10) scale(0.840,1)" font-size="18.55" fill="#f4f4f4" stroke="#212830" stroke-width="0.20" textLength="63.1" lengthAdjust="spacing">Naglah</text>
<text transform="translate(1146.49,870.90) scale(0.840,1)" font-size="18.55" fill="#f4f4f4" stroke="#212830" stroke-width="0.20" textLength="57.6" lengthAdjust="spacing">Brown</text>
<circle cx="1202.7" cy="824.2" r="7.2" stroke="#d27ed6" stroke-width="1.0" fill="#d27ed6"/>
<circle cx="1202.7" cy="824.2" r="4.5" stroke="#4a1450" stroke-width="1.3" fill="none" stroke-dasharray="1.3 1.7" opacity="0.75"/>
<text x="1202.7" y="827.7" font-size="10" font-weight="bold" fill="#ffffff" text-anchor="middle">K</text>
<path d="M1226.3,824.2 A38.7,38.7 0 0 1 1269.8,824.2 Z" fill="#eeee14"/>
<circle cx="1248.1" cy="856.2" r="38.7" stroke="#dcdc1e" stroke-width="1.45" fill="none"/>
<circle cx="1248.1" cy="829.0" r="7.0" stroke="#dcdc1e" stroke-width="1.4" fill="none"/>
<text x="1243.4" y="831.2" font-size="7.83" fill="#f4f4f4" font-weight="bold" stroke="#f4f4f4" stroke-width="0.25" textLength="9.2" lengthAdjust="spacingAndGlyphs">5/5</text>
<text transform="translate(1218.56,856.20) scale(0.840,1)" font-size="14.49" fill="#f4f4f4" stroke="#212830" stroke-width="0.16" textLength="70.2" lengthAdjust="spacing">Naganero</text>
<text transform="translate(1238.41,875.60) scale(0.840,1)" font-size="17.97" fill="#f4f4f4" stroke="#212830" stroke-width="0.20" textLength="23.0" lengthAdjust="spacing">F4</text>
<text x="1236.9" y="891.8" font-size="6.67" fill="#f4f4f4" font-weight="bold" stroke="#f4f4f4" stroke-width="0.30" textLength="22.3" lengthAdjust="spacingAndGlyphs">22.01.16</text>
<circle cx="1280.1" cy="824.2" r="7.2" stroke="#d27ed6" stroke-width="1.0" fill="#d27ed6"/>
<circle cx="1280.1" cy="824.2" r="4.5" stroke="#4a1450" stroke-width="1.3" fill="none" stroke-dasharray="1.3 1.7" opacity="0.75"/>
<text x="1280.1" y="827.7" font-size="10" font-weight="bold" fill="#ffffff" text-anchor="middle">K</text>
<text transform="translate(1399.00,485.80) scale(0.801,1)" font-size="27.25" fill="#c81e44" stroke="#212830" stroke-width="0.20" textLength="115.1" lengthAdjust="spacing">NÁDOBY</text>
<path d="M1303.7,515.0 A38.7,38.7 0 0 1 1347.2,515.0 Z" fill="#eeee14"/>
<circle cx="1325.4" cy="547.0" r="38.7" stroke="#dcdc1e" stroke-width="1.45" fill="none"/>
<circle cx="1325.4" cy="519.8" r="7.0" stroke="#dcdc1e" stroke-width="1.4" fill="none"/>
<text x="1320.8" y="522.0" font-size="7.83" fill="#f4f4f4" font-weight="bold" stroke="#f4f4f4" stroke-width="0.25" textLength="9.2" lengthAdjust="spacingAndGlyphs">1/1</text>
<text transform="translate(1302.39,545.10) scale(0.818,1)" font-size="19.71" fill="#f4f4f4" stroke="#212830" stroke-width="0.20">7</text>
<text transform="translate(1324.28,545.10) scale(0.818,1)" font-size="19.71" fill="#f4f4f4" stroke="#212830" stroke-width="0.20" textLength="29.6" lengthAdjust="spacing">Pot</text>
<text transform="translate(1291.34,560.30) scale(0.840,1)" font-size="15.22" fill="#f4f4f4" stroke="#212830" stroke-width="0.17" textLength="81.2" lengthAdjust="spacing">Bubblegum</text>
<text x="1314.3" y="584.0" font-size="6.67" fill="#f4f4f4" font-weight="bold" stroke="#f4f4f4" stroke-width="0.30" textLength="22.3" lengthAdjust="spacingAndGlyphs">22.01.20</text>
<path d="M1381.1,515.0 A38.7,38.7 0 0 1 1424.6,515.0 Z" fill="#eeee14"/>
<circle cx="1402.8" cy="547.0" r="38.7" stroke="#dcdc1e" stroke-width="1.45" fill="none"/>
<circle cx="1402.8" cy="519.8" r="7.0" stroke="#dcdc1e" stroke-width="1.4" fill="none"/>
<text x="1398.2" y="522.0" font-size="7.83" fill="#f4f4f4" font-weight="bold" stroke="#f4f4f4" stroke-width="0.25" textLength="9.2" lengthAdjust="spacingAndGlyphs">3/3</text>
<text transform="translate(1378.12,544.10) scale(0.840,1)" font-size="17.54" fill="#f4f4f4" stroke="#212830" stroke-width="0.19" textLength="58.8" lengthAdjust="spacing">Kartuz</text>
<text x="1368.9" y="558.2" font-size="6.67" fill="#f4f4f4" font-weight="bold" textLength="3.0" lengthAdjust="spacingAndGlyphs">7</text>
<text x="1374.0" y="558.2" font-size="6.67" fill="#f4f4f4" font-weight="bold" textLength="8.8" lengthAdjust="spacingAndGlyphs">Pot</text>
<text x="1384.8" y="558.2" font-size="6.67" fill="#f4f4f4" font-weight="bold" textLength="30.5" lengthAdjust="spacingAndGlyphs">Apocalypse</text>
<text x="1417.4" y="558.2" font-size="6.67" fill="#f4f4f4" font-weight="bold" textLength="3.0" lengthAdjust="spacingAndGlyphs">x</text>
<text x="1422.5" y="558.2" font-size="6.67" fill="#f4f4f4" font-weight="bold" textLength="14.2" lengthAdjust="spacingAndGlyphs">JPBS</text>
<text x="1401.5" y="562.5" font-size="5.22" fill="#f4f4f4" font-weight="bold" textLength="2.7" lengthAdjust="spacingAndGlyphs">x</text>
<text x="1377.6" y="569.3" font-size="6.67" fill="#f4f4f4" font-weight="bold" textLength="19.1" lengthAdjust="spacingAndGlyphs">Naruga</text>
<text x="1398.8" y="569.3" font-size="6.67" fill="#f4f4f4" font-weight="bold" textLength="14.8" lengthAdjust="spacingAndGlyphs">Black</text>
<text x="1415.7" y="569.3" font-size="6.67" fill="#f4f4f4" font-weight="bold" textLength="12.3" lengthAdjust="spacingAndGlyphs">Jack</text>
<text x="1391.7" y="584.0" font-size="6.67" fill="#f4f4f4" font-weight="bold" stroke="#f4f4f4" stroke-width="0.30" textLength="22.3" lengthAdjust="spacingAndGlyphs">22.01.10</text>
<circle cx="1434.8" cy="515.0" r="7.2" stroke="#d27ed6" stroke-width="1.0" fill="#d27ed6"/>
<circle cx="1434.8" cy="515.0" r="4.5" stroke="#4a1450" stroke-width="1.3" fill="none" stroke-dasharray="1.3 1.7" opacity="0.75"/>
<text x="1434.8" y="518.5" font-size="10" font-weight="bold" fill="#ffffff" text-anchor="middle">K</text>
<path d="M1458.4,515.0 A38.7,38.7 0 0 1 1502.0,515.0 Z" fill="#eeee14"/>
<circle cx="1480.2" cy="547.0" r="38.7" stroke="#dcdc1e" stroke-width="1.45" fill="none"/>
<text x="1475.6" y="522.0" font-size="7.83" fill="#f4f4f4" font-weight="bold" stroke="#f4f4f4" stroke-width="0.25" textLength="9.2" lengthAdjust="spacingAndGlyphs">0/0</text>
<text transform="translate(1454.80,553.50) scale(0.840,1)" font-size="18.55" fill="#f4f4f4" stroke="#212830" stroke-width="0.20" textLength="60.5" lengthAdjust="spacing">Jigsaw</text>
<text x="1469.0" y="578.5" font-size="6.67" fill="#f4f4f4" font-weight="bold" stroke="#f4f4f4" stroke-width="0.30" textLength="22.3" lengthAdjust="spacingAndGlyphs">22.01.30</text>
<text x="1468.4" y="583.0" font-size="6.67" fill="#f4f4f4" font-weight="bold" stroke="#f4f4f4" stroke-width="0.30" textLength="23.6" lengthAdjust="spacingAndGlyphs">22.02.XX</text>
<circle cx="1512.2" cy="515.0" r="7.2" stroke="#d27ed6" stroke-width="1.0" fill="#d27ed6"/>
<circle cx="1512.2" cy="515.0" r="4.5" stroke="#4a1450" stroke-width="1.3" fill="none" stroke-dasharray="1.3 1.7" opacity="0.75"/>
<text x="1512.2" y="518.5" font-size="10" font-weight="bold" fill="#ffffff" text-anchor="middle">K</text>
<path d="M1535.8,515.0 A38.7,38.7 0 0 1 1579.3,515.0 Z" fill="#eeee14"/>
<circle cx="1557.6" cy="547.0" r="38.7" stroke="#dcdc1e" stroke-width="1.45" fill="none"/>
<circle cx="1557.6" cy="519.8" r="7.0" stroke="#dcdc1e" stroke-width="1.4" fill="none"/>
<text x="1553.0" y="522.0" font-size="7.83" fill="#f4f4f4" font-weight="bold" stroke="#f4f4f4" stroke-width="0.25" textLength="9.2" lengthAdjust="spacingAndGlyphs">2/2</text>
<text transform="translate(1531.58,545.70) scale(0.840,1)" font-size="18.55" fill="#f4f4f4" stroke="#212830" stroke-width="0.20" textLength="61.9" lengthAdjust="spacing">Lemon</text>
<text transform="translate(1539.58,563.00) scale(0.840,1)" font-size="18.55" fill="#f4f4f4" stroke="#212830" stroke-width="0.20" textLength="42.9" lengthAdjust="spacing">Jai's</text>
<text x="1546.4" y="584.0" font-size="6.67" fill="#f4f4f4" font-weight="bold" stroke="#f4f4f4" stroke-width="0.30" textLength="22.3" lengthAdjust="spacingAndGlyphs">22.01.19</text>
<circle cx="1589.6" cy="515.0" r="7.2" stroke="#9ab8ea" stroke-width="1.0" fill="#9ab8ea"/>
<circle cx="1589.6" cy="515.0" r="4.5" stroke="#1c2c70" stroke-width="1.3" fill="none" stroke-dasharray="1.3 1.7" opacity="0.75"/>
<text x="1589.6" y="518.5" font-size="10" font-weight="bold" fill="#ffffff" text-anchor="middle">L</text>
<path d="M1303.7,669.6 A38.7,38.7 0 0 1 1347.2,669.6 Z" fill="#eeee14"/>
<circle cx="1325.4" cy="701.6" r="38.7" stroke="#dcdc1e" stroke-width="1.45" fill="none"/>
<circle cx="1325.4" cy="674.4" r="7.0" stroke="#dcdc1e" stroke-width="1.4" fill="none"/>
<text x="1320.8" y="676.6" font-size="7.83" fill="#f4f4f4" font-weight="bold" stroke="#f4f4f4" stroke-width="0.25" textLength="9.2" lengthAdjust="spacingAndGlyphs">5/5</text>
<text transform="translate(1302.04,691.20) scale(0.908,1)" font-size="18.55" fill="#f4f4f4" stroke="#212830" stroke-width="0.20">7</text>
<text transform="translate(1323.56,691.20) scale(0.840,1)" font-size="18.55" fill="#f4f4f4" stroke="#212830" stroke-width="0.20" textLength="30.1" lengthAdjust="spacing">Pot</text>
<text transform="translate(1295.29,708.10) scale(0.840,1)" font-size="17.97" fill="#f4f4f4" stroke="#212830" stroke-width="0.20" textLength="71.8" lengthAdjust="spacing">Spartan</text>
<text transform="translate(1311.79,726.80) scale(0.828,1)" font-size="17.97" fill="#f4f4f4" stroke="#212830" stroke-width="0.20" textLength="33.0" lengthAdjust="spacing">Red</text>
<text x="1314.3" y="737.9" font-size="6.67" fill="#f4f4f4" font-weight="bold" stroke="#f4f4f4" stroke-width="0.30" textLength="22.3" lengthAdjust="spacingAndGlyphs">22.01.18</text>
<circle cx="1357.4" cy="669.6" r="7.2" stroke="#0e5c1c" stroke-width="1.0" fill="#0e5c1c"/>
<text x="1357.4" y="673.1" font-size="10" font-weight="bold" fill="#d4f4d4" text-anchor="middle">G</text>
<path d="M1381.1,669.6 A38.7,38.7 0 0 1 1424.6,669.6 Z" fill="#eeee14"/>
<circle cx="1402.8" cy="701.6" r="38.7" stroke="#dcdc1e" stroke-width="1.45" fill="none"/>
<circle cx="1402.8" cy="674.4" r="7.0" stroke="#dcdc1e" stroke-width="1.4" fill="none"/>
<text x="1398.2" y="676.6" font-size="7.83" fill="#f4f4f4" font-weight="bold" stroke="#f4f4f4" stroke-width="0.25" textLength="9.2" lengthAdjust="spacingAndGlyphs">5/5</text>
<text transform="translate(1379.42,691.20) scale(0.908,1)" font-size="18.55" fill="#f4f4f4" stroke="#212830" stroke-width="0.20">7</text>
<text transform="translate(1400.94,691.20) scale(0.840,1)" font-size="18.55" fill="#f4f4f4" stroke="#212830" stroke-width="0.20" textLength="30.1" lengthAdjust="spacing">Pot</text>
<text transform="translate(1372.67,708.10) scale(0.840,1)" font-size="17.97" fill="#f4f4f4" stroke="#212830" stroke-width="0.20" textLength="71.8" lengthAdjust="spacing">Spartan</text>
<text transform="translate(1374.82,725.80) scale(0.840,1)" font-size="17.97" fill="#f4f4f4" stroke="#212830" stroke-width="0.20" textLength="66.7" lengthAdjust="spacing">Orange</text>
<text x="1391.7" y="737.9" font-size="6.67" fill="#f4f4f4" font-weight="bold" stroke="#f4f4f4" stroke-width="0.30" textLength="22.3" lengthAdjust="spacingAndGlyphs">22.01.18</text>
<circle cx="1434.8" cy="669.6" r="7.2" stroke="#0e5c1c" stroke-width="1.0" fill="#0e5c1c"/>
<text x="1434.8" y="673.1" font-size="10" font-weight="bold" fill="#d4f4d4" text-anchor="middle">G</text>
<path d="M1458.4,669.6 A38.7,38.7 0 0 1 1502.0,669.6 Z" fill="#eeee14"/>
<circle cx="1480.2" cy="701.6" r="38.7" stroke="#dcdc1e" stroke-width="1.45" fill="none"/>
<circle cx="1480.2" cy="674.4" r="7.0" stroke="#dcdc1e" stroke-width="1.4" fill="none"/>
<text x="1475.6" y="676.6" font-size="7.83" fill="#f4f4f4" font-weight="bold" stroke="#f4f4f4" stroke-width="0.25" textLength="9.2" lengthAdjust="spacingAndGlyphs">5/5</text>
<text transform="translate(1453.90,700.60) scale(0.840,1)" font-size="18.55" fill="#f4f4f4" stroke="#212830" stroke-width="0.20" textLength="62.6" lengthAdjust="spacing">Jolokia</text>
<text transform="translate(1457.70,718.10) scale(0.840,1)" font-size="18.55" fill="#f4f4f4" stroke="#212830" stroke-width="0.20" textLength="53.6" lengthAdjust="spacing">Citron</text>
<text x="1469.0" y="737.9" font-size="6.67" fill="#f4f4f4" font-weight="bold" stroke="#f4f4f4" stroke-width="0.30" textLength="22.3" lengthAdjust="spacingAndGlyphs">22.01.19</text>
<circle cx="1512.2" cy="669.6" r="7.2" stroke="#d27ed6" stroke-width="1.0" fill="#d27ed6"/>
<circle cx="1512.2" cy="669.6" r="4.5" stroke="#4a1450" stroke-width="1.3" fill="none" stroke-dasharray="1.3 1.7" opacity="0.75"/>
<text x="1512.2" y="673.1" font-size="10" font-weight="bold" fill="#ffffff" text-anchor="middle">K</text>
<path d="M1535.8,669.6 A38.7,38.7 0 0 1 1579.3,669.6 Z" fill="#eeee14"/>
<circle cx="1557.6" cy="701.6" r="38.7" stroke="#dcdc1e" stroke-width="1.45" fill="none"/>
<circle cx="1557.6" cy="674.4" r="7.0" stroke="#dcdc1e" stroke-width="1.4" fill="none"/>
<text x="1553.0" y="676.6" font-size="7.83" fill="#f4f4f4" font-weight="bold" stroke="#f4f4f4" stroke-width="0.25" textLength="9.2" lengthAdjust="spacingAndGlyphs">5/5</text>
<text transform="translate(1531.28,700.60) scale(0.840,1)" font-size="18.55" fill="#f4f4f4" stroke="#212830" stroke-width="0.20" textLength="62.6" lengthAdjust="spacing">Jolokia</text>
<text transform="translate(1529.58,718.10) scale(0.840,1)" font-size="18.55" fill="#f4f4f4" stroke="#212830" stroke-width="0.20" textLength="66.7" lengthAdjust="spacing">Salmon</text>
<text x="1546.4" y="737.9" font-size="6.67" fill="#f4f4f4" font-weight="bold" stroke="#f4f4f4" stroke-width="0.30" textLength="22.3" lengthAdjust="spacingAndGlyphs">22.01.18</text>
<circle cx="1589.6" cy="669.6" r="7.2" stroke="#0e5c1c" stroke-width="1.0" fill="#0e5c1c"/>
<text x="1589.6" y="673.1" font-size="10" font-weight="bold" fill="#d4f4d4" text-anchor="middle">G</text>
<path d="M1613.2,669.6 A38.7,38.7 0 0 1 1656.7,669.6 Z" fill="#eeee14"/>
<circle cx="1635.0" cy="701.6" r="38.7" stroke="#dcdc1e" stroke-width="1.45" fill="none"/>
<line x1="1635.0" y1="701.6" x2="1635.0" y2="669.6" stroke="#dcdc1e" stroke-width="1.6"/>
<line x1="1635.0" y1="701.6" x2="1601.4" y2="721.0" stroke="#dcdc1e" stroke-width="1.6"/>
<line x1="1635.0" y1="701.6" x2="1668.5" y2="721.0" stroke="#dcdc1e" stroke-width="1.6"/>
<text x="1610.7" y="684.6" font-size="8.12" fill="#f4f4f4" font-weight="bold" textLength="9.6" lengthAdjust="spacingAndGlyphs">5/3</text>
<text transform="translate(1606.17,695.10) scale(0.840,1)" font-size="11.01" fill="#f4f4f4" textLength="22.1" lengthAdjust="spacing">Red</text>
<text x="1647.7" y="684.6" font-size="8.12" fill="#f4f4f4" font-weight="bold" textLength="9.6" lengthAdjust="spacingAndGlyphs">0/2</text>
<text transform="translate(1639.81,695.60) scale(0.840,1)" font-size="11.01" fill="#f4f4f4" textLength="34.9" lengthAdjust="spacing">Choco</text>
<text x="1642.0" y="705.1" font-size="7.54" fill="#f4f4f4" font-weight="bold" textLength="24.9" lengthAdjust="spacingAndGlyphs">22.01.20</text>
<text x="1630.2" y="715.6" font-size="8.12" fill="#f4f4f4" font-weight="bold" textLength="9.6" lengthAdjust="spacingAndGlyphs">5/4</text>
<text transform="translate(1620.50,726.60) scale(0.840,1)" font-size="11.01" fill="#f4f4f4" textLength="34.4" lengthAdjust="spacing">Yellow</text>
<text x="1622.5" y="737.1" font-size="7.54" fill="#f4f4f4" font-weight="bold" textLength="24.9" lengthAdjust="spacingAndGlyphs">22.01.20</text>
<text transform="translate(1667.00,676.00) scale(0.840,1)" font-size="16.81" fill="#f4f4f4" stroke="#212830" stroke-width="0.18" textLength="62.7" lengthAdjust="spacing">Jolokia</text>
<path d="M1381.1,746.9 A38.7,38.7 0 0 1 1424.6,746.9 Z" fill="#eeee14"/>
<circle cx="1402.8" cy="778.9" r="38.7" stroke="#dcdc1e" stroke-width="1.45" fill="none"/>
<text x="1398.2" y="753.9" font-size="7.83" fill="#f4f4f4" font-weight="bold" stroke="#f4f4f4" stroke-width="0.25" textLength="9.2" lengthAdjust="spacingAndGlyphs">3/3</text>
<text transform="translate(1379.97,776.80) scale(1.014,1)" font-size="16.67" fill="#f4f4f4" stroke="#212830" stroke-width="0.18">7</text>
<text transform="translate(1400.30,776.80) scale(0.840,1)" font-size="16.67" fill="#f4f4f4" stroke="#212830" stroke-width="0.18" textLength="30.2" lengthAdjust="spacing">Pot</text>
<text transform="translate(1367.72,791.70) scale(0.840,1)" font-size="14.49" fill="#f4f4f4" stroke="#212830" stroke-width="0.16" textLength="83.6" lengthAdjust="spacing">Apocalypse</text>
<circle cx="1434.8" cy="746.9" r="7.2" stroke="#d27ed6" stroke-width="1.0" fill="#d27ed6"/>
<circle cx="1434.8" cy="746.9" r="4.5" stroke="#4a1450" stroke-width="1.3" fill="none" stroke-dasharray="1.3 1.7" opacity="0.75"/>
<text x="1434.8" y="750.4" font-size="10" font-weight="bold" fill="#ffffff" text-anchor="middle">K</text>
<path d="M1458.4,746.9 A38.7,38.7 0 0 1 1502.0,746.9 Z" fill="#eeee14"/>
<circle cx="1480.2" cy="778.9" r="38.7" stroke="#dcdc1e" stroke-width="1.45" fill="none"/>
<circle cx="1480.2" cy="751.7" r="7.0" stroke="#dcdc1e" stroke-width="1.4" fill="none"/>
<text x="1475.6" y="753.9" font-size="7.83" fill="#f4f4f4" font-weight="bold" stroke="#f4f4f4" stroke-width="0.25" textLength="9.2" lengthAdjust="spacingAndGlyphs">6/6</text>
<text transform="translate(1462.19,771.70) scale(0.840,1)" font-size="18.55" fill="#f4f4f4" stroke="#212830" stroke-width="0.20" textLength="42.9" lengthAdjust="spacing">TSM</text>
<text transform="translate(1458.70,787.20) scale(0.840,1)" font-size="18.55" fill="#f4f4f4" stroke="#212830" stroke-width="0.20" textLength="51.2" lengthAdjust="spacing">Butch</text>
<text transform="translate(1457.44,801.80) scale(0.840,1)" font-size="18.55" fill="#f4f4f4" stroke="#212830" stroke-width="0.20" textLength="54.2" lengthAdjust="spacing">Taylor</text>
<text x="1469.0" y="815.4" font-size="6.67" fill="#f4f4f4" font-weight="bold" stroke="#f4f4f4" stroke-width="0.30" textLength="22.3" lengthAdjust="spacingAndGlyphs">22.01.18</text>
<path d="M1535.8,746.9 A38.7,38.7 0 0 1 1579.3,746.9 Z" fill="#eeee14"/>
<circle cx="1557.6" cy="778.9" r="38.7" stroke="#dcdc1e" stroke-width="1.45" fill="none"/>
<text x="1553.0" y="753.9" font-size="7.83" fill="#f4f4f4" font-weight="bold" stroke="#f4f4f4" stroke-width="0.25" textLength="9.2" lengthAdjust="spacingAndGlyphs">6/3</text>
<text transform="translate(1539.57,777.20) scale(0.840,1)" font-size="18.55" fill="#f4f4f4" stroke="#212830" stroke-width="0.20" textLength="42.9" lengthAdjust="spacing">TSM</text>
<text transform="translate(1534.33,794.50) scale(0.840,1)" font-size="18.55" fill="#f4f4f4" stroke="#212830" stroke-width="0.20" textLength="55.4" lengthAdjust="spacing">Yellow</text>
<text x="1546.4" y="815.4" font-size="6.67" fill="#f4f4f4" font-weight="bold" stroke="#f4f4f4" stroke-width="0.30" textLength="22.3" lengthAdjust="spacingAndGlyphs">22.01.17</text>
<path d="M1613.2,746.9 A38.7,38.7 0 0 1 1656.7,746.9 Z" fill="#eeee14"/>
<circle cx="1635.0" cy="778.9" r="38.7" stroke="#dcdc1e" stroke-width="1.45" fill="none"/>
<line x1="1635.0" y1="778.9" x2="1635.0" y2="746.9" stroke="#dcdc1e" stroke-width="1.6"/>
<line x1="1635.0" y1="778.9" x2="1601.4" y2="798.2" stroke="#dcdc1e" stroke-width="1.6"/>
<line x1="1635.0" y1="778.9" x2="1668.5" y2="798.2" stroke="#dcdc1e" stroke-width="1.6"/>
<text x="1610.7" y="761.9" font-size="8.12" fill="#f4f4f4" font-weight="bold" textLength="9.6" lengthAdjust="spacingAndGlyphs">3/4</text>
<text transform="translate(1606.17,772.40) scale(0.840,1)" font-size="11.01" fill="#f4f4f4" textLength="22.1" lengthAdjust="spacing">Red</text>
<text x="1647.7" y="761.9" font-size="8.12" fill="#f4f4f4" font-weight="bold" textLength="9.6" lengthAdjust="spacingAndGlyphs">0/0</text>
<text transform="translate(1639.51,772.90) scale(0.840,1)" font-size="11.01" fill="#f4f4f4" textLength="30.8" lengthAdjust="spacing">White</text>
<text x="1630.2" y="792.9" font-size="8.12" fill="#f4f4f4" font-weight="bold" textLength="9.6" lengthAdjust="spacingAndGlyphs">5/5</text>
<text transform="translate(1620.50,803.90) scale(0.840,1)" font-size="11.01" fill="#f4f4f4" textLength="34.4" lengthAdjust="spacing">Yellow</text>
<circle cx="1652.5" cy="759.9" r="7.6" stroke="#dcdc1e" stroke-width="1.4" fill="none"/>
<circle cx="1635.0" cy="791.2" r="7.6" stroke="#dcdc1e" stroke-width="1.4" fill="none"/>
<text transform="translate(1667.00,753.00) scale(0.840,1)" font-size="16.81" fill="#f4f4f4" stroke="#212830" stroke-width="0.18" textLength="54.8" lengthAdjust="spacing">Fatalii</text>
<path d="M1303.7,824.2 A38.7,38.7 0 0 1 1347.2,824.2 Z" fill="#eeee14"/>
<circle cx="1325.4" cy="856.2" r="38.7" stroke="#dcdc1e" stroke-width="1.45" fill="none"/>
<circle cx="1325.4" cy="829.0" r="7.0" stroke="#dcdc1e" stroke-width="1.4" fill="none"/>
<text x="1320.8" y="831.2" font-size="7.83" fill="#f4f4f4" font-weight="bold" stroke="#f4f4f4" stroke-width="0.25" textLength="9.2" lengthAdjust="spacingAndGlyphs">5/5</text>
<text transform="translate(1295.94,856.00) scale(0.840,1)" font-size="15.36" fill="#f4f4f4" stroke="#212830" stroke-width="0.17" textLength="70.2" lengthAdjust="spacing">Habanero</text>
<text transform="translate(1301.94,871.20) scale(0.829,1)" font-size="18.55" fill="#f4f4f4" stroke="#212830" stroke-width="0.20" textLength="56.7" lengthAdjust="spacing">Lemon</text>
<text x="1314.3" y="892.5" font-size="6.67" fill="#f4f4f4" font-weight="bold" stroke="#f4f4f4" stroke-width="0.30" textLength="22.3" lengthAdjust="spacingAndGlyphs">22.01.17</text>
<path d="M1381.1,824.2 A38.7,38.7 0 0 1 1424.6,824.2 Z" fill="#eeee14"/>
<circle cx="1402.8" cy="856.2" r="38.7" stroke="#dcdc1e" stroke-width="1.45" fill="none"/>
<circle cx="1402.8" cy="829.0" r="7.0" stroke="#dcdc1e" stroke-width="1.4" fill="none"/>
<text x="1398.2" y="831.2" font-size="7.83" fill="#f4f4f4" font-weight="bold" stroke="#f4f4f4" stroke-width="0.25" textLength="9.2" lengthAdjust="spacingAndGlyphs">5/5</text>
<text transform="translate(1373.32,851.00) scale(0.840,1)" font-size="15.07" fill="#f4f4f4" stroke="#212830" stroke-width="0.17" textLength="70.2" lengthAdjust="spacing">Habanero</text>
<text transform="translate(1382.82,866.50) scale(0.840,1)" font-size="18.55" fill="#f4f4f4" stroke="#212830" stroke-width="0.20" textLength="47.6" lengthAdjust="spacing">White</text>
<text x="1385.8" y="875.6" font-size="8.99" fill="#f4f4f4" font-weight="bold" textLength="34.0" lengthAdjust="spacingAndGlyphs">Jellybean</text>
<text x="1391.7" y="892.5" font-size="6.67" fill="#f4f4f4" font-weight="bold" stroke="#f4f4f4" stroke-width="0.30" textLength="22.3" lengthAdjust="spacingAndGlyphs">22.01.17</text>
<path d="M1458.4,824.2 A38.7,38.7 0 0 1 1502.0,824.2 Z" fill="#eeee14"/>
<circle cx="1480.2" cy="856.2" r="38.7" stroke="#dcdc1e" stroke-width="1.45" fill="none"/>
<text x="1475.6" y="831.2" font-size="7.83" fill="#f4f4f4" font-weight="bold" stroke="#f4f4f4" stroke-width="0.25" textLength="9.2" lengthAdjust="spacingAndGlyphs">5/4</text>
<text transform="translate(1450.70,851.90) scale(0.840,1)" font-size="15.07" fill="#f4f4f4" stroke="#212830" stroke-width="0.17" textLength="70.2" lengthAdjust="spacing">Habanero</text>
<text transform="translate(1452.70,867.40) scale(0.840,1)" font-size="18.55" fill="#f4f4f4" stroke="#212830" stroke-width="0.20" textLength="65.5" lengthAdjust="spacing">Orange</text>
<text x="1473.1" y="878.4" font-size="8.41" fill="#f4f4f4" font-weight="bold" textLength="14.2" lengthAdjust="spacingAndGlyphs">Blix</text>
<text x="1469.0" y="892.5" font-size="6.67" fill="#f4f4f4" font-weight="bold" stroke="#f4f4f4" stroke-width="0.30" textLength="22.3" lengthAdjust="spacingAndGlyphs">22.01.18</text>
<circle cx="1512.2" cy="824.2" r="7.2" stroke="#de8440" stroke-width="1.0" fill="#de8440"/>
<circle cx="1512.2" cy="824.2" r="4.5" stroke="#5a1a08" stroke-width="1.3" fill="none" stroke-dasharray="1.3 1.7" opacity="0.75"/>
<text x="1512.2" y="827.7" font-size="10" font-weight="bold" fill="#ffffff" text-anchor="middle">B</text>
<path d="M1535.8,824.2 A38.7,38.7 0 0 1 1579.3,824.2 Z" fill="#eeee14"/>
<circle cx="1557.6" cy="856.2" r="38.7" stroke="#dcdc1e" stroke-width="1.45" fill="none"/>
<text x="1553.0" y="831.2" font-size="7.83" fill="#f4f4f4" font-weight="bold" stroke="#f4f4f4" stroke-width="0.25" textLength="9.2" lengthAdjust="spacingAndGlyphs">5/3</text>
<text transform="translate(1528.08,854.70) scale(0.840,1)" font-size="15.07" fill="#f4f4f4" stroke="#212830" stroke-width="0.17" textLength="70.2" lengthAdjust="spacing">Habanero</text>
<text transform="translate(1527.08,870.20) scale(0.840,1)" font-size="18.55" fill="#f4f4f4" stroke="#212830" stroke-width="0.20" textLength="72.6" lengthAdjust="spacing">Golonka</text>
<circle cx="1589.6" cy="824.2" r="7.2" stroke="#0e5c1c" stroke-width="1.0" fill="#0e5c1c"/>
<text x="1589.6" y="827.7" font-size="10" font-weight="bold" fill="#d4f4d4" text-anchor="middle">G</text>
<path d="M1613.2,824.2 A38.7,38.7 0 0 1 1656.7,824.2 Z" fill="#eeee14"/>
<circle cx="1635.0" cy="856.2" r="38.7" stroke="#dcdc1e" stroke-width="1.45" fill="none"/>
<circle cx="1635.0" cy="829.0" r="7.0" stroke="#dcdc1e" stroke-width="1.4" fill="none"/>
<text x="1630.3" y="831.2" font-size="7.83" fill="#f4f4f4" font-weight="bold" stroke="#f4f4f4" stroke-width="0.25" textLength="9.2" lengthAdjust="spacingAndGlyphs">5/5</text>
<text transform="translate(1605.46,852.20) scale(0.840,1)" font-size="15.36" fill="#f4f4f4" stroke="#212830" stroke-width="0.17" textLength="70.2" lengthAdjust="spacing">Habanero</text>
<text transform="translate(1597.96,868.20) scale(0.840,1)" font-size="15.36" fill="#f4f4f4" stroke="#212830" stroke-width="0.17" textLength="47.6" lengthAdjust="spacing">Savina</text>
<text transform="translate(1647.99,868.20) scale(0.840,1)" font-size="15.36" fill="#f4f4f4" stroke="#212830" stroke-width="0.17" textLength="28.5" lengthAdjust="spacing">Red</text>
<text x="1623.8" y="892.5" font-size="6.67" fill="#f4f4f4" font-weight="bold" stroke="#f4f4f4" stroke-width="0.30" textLength="22.3" lengthAdjust="spacingAndGlyphs">22.01.18</text>
<line x1="0.5" y1="810.0" x2="3.0" y2="817.0" stroke="#e8e8e8" stroke-width="1.3"/>
<line x1="9.0" y1="810.0" x2="3.0" y2="817.0" stroke="#e8e8e8" stroke-width="1.3"/>
<line x1="3.0" y1="817.0" x2="3.0" y2="823.0" stroke="#e8e8e8" stroke-width="1.3"/>
<line x1="0.0" y1="877.2" x2="45.0" y2="877.2" stroke="#e8e8e8" stroke-width="1.5"/>
<line x1="49.2" y1="862.9" x2="62.0" y2="875.7" stroke="#e8e8e8" stroke-width="1.4"/>
<line x1="62.0" y1="862.9" x2="49.2" y2="875.7" stroke="#e8e8e8" stroke-width="1.4"/>
<rect x="0" y="0" width="1733" height="2" fill="#f4f4f4"/>
<rect x="0" y="898.5" width="1733" height="7" fill="#eeeeee"/>
</svg>
</body></html>
